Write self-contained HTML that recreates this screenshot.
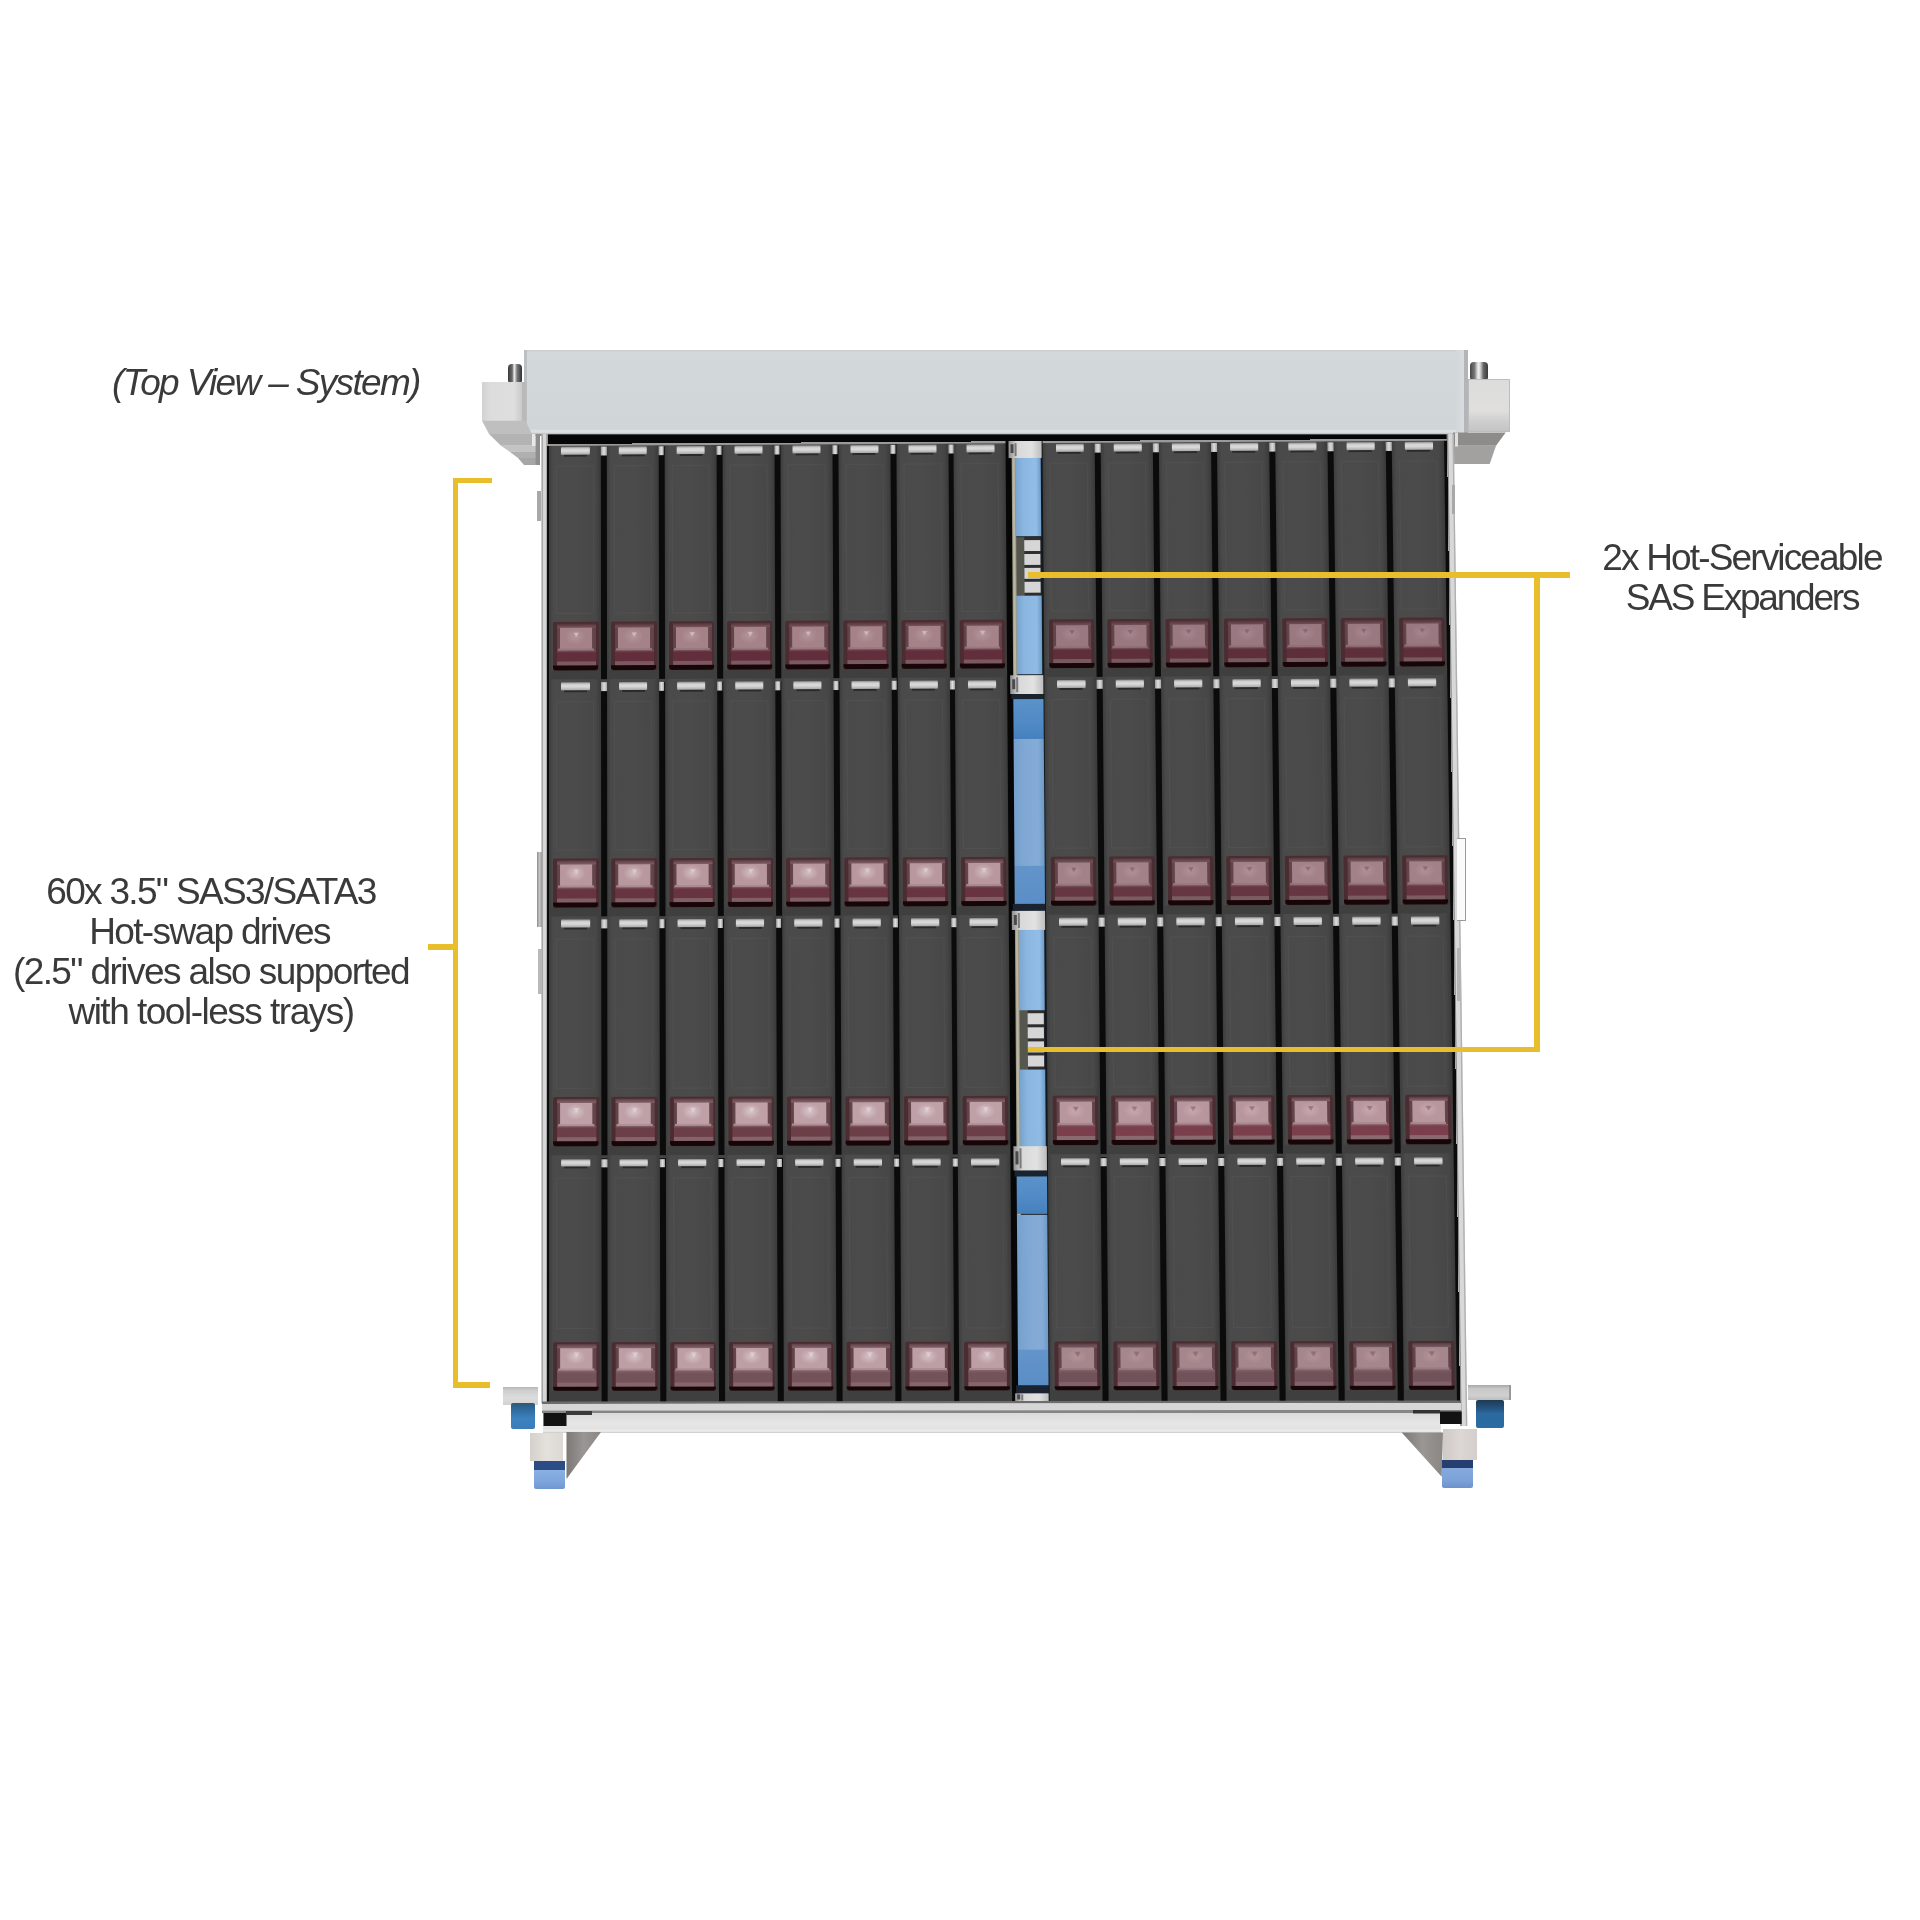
<!DOCTYPE html>
<html><head><meta charset="utf-8"><style>
html,body{margin:0;padding:0;background:#fff;}
body{width:1920px;height:1920px;position:relative;overflow:hidden;}
div{position:absolute;}
#grid{position:absolute;left:0;top:0;width:899px;height:958px;transform-origin:0 0;transform:matrix3d(0.993896354,-0.00808317684,0,-4.98686455e-06,-0.00809362335,0.979255466,0,-1.47963864e-05,0,0,1,0,547,444,0,1);}
#grid i{position:absolute;display:block;}
.t{position:absolute;font-family:"Liberation Sans",sans-serif;font-size:37px;color:#3a3a3a;white-space:nowrap;line-height:40px;}
</style></head><body>
<div style="left:524.00px;top:349.50px;width:944.00px;height:84.00px;background:linear-gradient(180deg,#c6cacc 0,#d3d8da 2.5%,#d1d7d8 50%,#d0d5d8 94%,#dde0e2 96%,#dde0e2 98%,#b8bbbd 100%)"></div>
<div style="left:524.00px;top:349.50px;width:3.00px;height:84.00px;background:#bcc0c2"></div>
<div style="left:1456.00px;top:349.50px;width:8.20px;height:84.00px;background:linear-gradient(90deg,#d2d7d9,#d8dcde)"></div>
<div style="left:1464.20px;top:349.50px;width:3.80px;height:84.00px;background:#b2b6b8"></div>
<div style="left:524.00px;top:433.50px;width:944.00px;height:2.00px;background:#878b8d"></div>
<div style="left:482.00px;top:381.70px;width:40.00px;height:39.30px;background:linear-gradient(90deg,#d2d2d2,#dcdcdc 20%,#dedede 80%,#cacaca)"></div>
<div style="left:521.60px;top:381.70px;width:4.40px;height:51.50px;background:#b9b9b9"></div>
<svg width="1920" height="1920" style="position:absolute;left:0;top:0"><polygon points="482,420.8 525.5,420.8 532,433.9 489,433.9" fill="#bfbfbf"/><polygon points="489,433.9 532,433.9 532,445.8 501,445.8" fill="#b3b3b3"/><polygon points="501,445.8 540,445.8 540,452 510,452" fill="#c4c4c4"/><polygon points="510,452 540,452 540,458 518,458" fill="#b0b0b0"/><polygon points="518,458 540,458 540,465 524,465" fill="#a6a6a6"/><rect x="532" y="434" width="3.6" height="12" fill="#e8e8e8"/><rect x="535.6" y="434" width="4.4" height="31" fill="#8e8e8e"/></svg>
<div style="left:508.00px;top:364.00px;width:14.00px;height:18.00px;background:linear-gradient(90deg,#3a3a3a,#6a6a6a 30%,#f0f0f0 45%,#777 65%,#333);border-radius:4px 4px 1px 1px"></div>
<div style="left:1468.00px;top:378.60px;width:41.50px;height:53.40px;background:linear-gradient(180deg,#dcdcdc 0,#e0dfde 60%,#cfcfcf 80%,#c4c4c4 100%);border:1px solid #bdbdbd;box-sizing:border-box"></div>
<svg width="1920" height="1920" style="position:absolute;left:0;top:0"><polygon points="1453,432.6 1505.7,432.6 1496,445.7 1453,445.7" fill="#8e8c8a"/><polygon points="1453,445.7 1496,445.7 1489.7,464 1453,464" fill="#a3a19f"/><rect x="1455" y="432.6" width="3" height="14" fill="#e0e0e0"/></svg>
<div style="left:1470.00px;top:362.00px;width:18.00px;height:17.40px;background:linear-gradient(90deg,#444,#777 25%,#eee 45%,#ddd 55%,#666 75%,#3a3a3a);border-radius:4px 4px 1px 1px"></div>
<svg width="1920" height="1920" style="position:absolute;left:0;top:0"><polygon points="543,434.5 1447,434.5 1447,439.5 543,444.8" fill="#060606"/><polygon points="541.5,434 548,434 548,1403 541.5,1403" fill="#d6d6d6"/><polygon points="541.5,434 543,434 543,1403 541.5,1403" fill="#a8a8a8"/><polygon points="546.3,434 548,434 548,1403 546.3,1403" fill="#9a9a9a"/><polygon points="1446.8,434 1453.8,434 1467.3,1426 1460.3,1426" fill="#d8d8d8"/><polygon points="1446.8,434 1448.2,434 1461.7,1426 1460.3,1426" fill="#8a8a8a"/><polygon points="1452.4,434 1453.8,434 1467.3,1426 1465.9,1426" fill="#b0b0b0"/></svg>
<div id="grid"><i style="left:0.00px;top:0.00px;width:899.00px;height:958.00px;background:#0b0b0b"></i><i style="left:0.00px;top:0.00px;width:899.00px;height:1.80px;background:#9a9a9a"></i><i style="left:1.80px;top:1.80px;width:52.00px;height:236.30px;background:linear-gradient(90deg,#3d3d3d 0,#4a4a4a 8%,#4b4b4b 50%,#474747 90%,#3a3a3a 100%)"></i><i style="left:8.80px;top:22.00px;width:38.00px;height:150.00px;border:1px solid rgba(255,255,255,0.035);box-sizing:border-box"></i><i style="left:14.00px;top:3.20px;width:28.50px;height:7.60px;background:linear-gradient(#8a8a8a,#d2d2d2 25%,#dadada 55%,#a8a8a8);border-radius:1px"></i><i style="left:16.70px;top:10.80px;width:23.00px;height:2.20px;background:#2a2a2a"></i><i style="left:6.40px;top:180.00px;width:45.20px;height:48.60px;background:#4a2c31;border-radius:2px"></i><i style="left:10.00px;top:182.00px;width:38.80px;height:29.00px;background:linear-gradient(90deg,#5e4248,#70525a 25%,#70525a 75%,#5e4248)"></i><i style="left:10.00px;top:182.00px;width:38.80px;height:4.00px;background:linear-gradient(#553238,#76545a)"></i><i style="left:13.10px;top:186.00px;width:32.30px;height:20.50px;background:radial-gradient(ellipse 32% 38% at 48% 42%,#b4969c 0,#a48288 100%)"></i><i style="left:26.30px;top:190.50px;width:6.00px;height:5.00px;background:#efe2e5;opacity:0.5;clip-path:polygon(0 0,100% 0,50% 100%);filter:blur(0.4px)"></i><i style="left:11.30px;top:206.50px;width:35.50px;height:2.10px;background:#a48288;opacity:0.8"></i><i style="left:10.00px;top:208.60px;width:38.80px;height:2.40px;background:linear-gradient(#7a5a60,#622e3c)"></i><i style="left:10.00px;top:211.00px;width:38.80px;height:8.80px;background:#622e3c"></i><i style="left:10.00px;top:219.80px;width:38.80px;height:4.40px;background:#7a5a60"></i><i style="left:6.40px;top:224.20px;width:45.00px;height:4.40px;background:#170507;border-radius:0 0 3px 3px"></i><i style="left:1.80px;top:228.50px;width:52.00px;height:9.60px;background:#3f3f3f"></i><i style="left:59.75px;top:1.80px;width:52.00px;height:236.30px;background:linear-gradient(90deg,#3d3d3d 0,#4a4a4a 8%,#4b4b4b 50%,#474747 90%,#3a3a3a 100%)"></i><i style="left:66.75px;top:22.00px;width:38.00px;height:150.00px;border:1px solid rgba(255,255,255,0.035);box-sizing:border-box"></i><i style="left:71.95px;top:3.20px;width:28.50px;height:7.60px;background:linear-gradient(#8a8a8a,#d2d2d2 25%,#dadada 55%,#a8a8a8);border-radius:1px"></i><i style="left:74.65px;top:10.80px;width:23.00px;height:2.20px;background:#2a2a2a"></i><i style="left:64.35px;top:180.00px;width:45.20px;height:48.60px;background:#4a2c31;border-radius:2px"></i><i style="left:67.95px;top:182.00px;width:38.80px;height:29.00px;background:linear-gradient(90deg,#5e4248,#70525a 25%,#70525a 75%,#5e4248)"></i><i style="left:67.95px;top:182.00px;width:38.80px;height:4.00px;background:linear-gradient(#553238,#76545a)"></i><i style="left:71.05px;top:186.00px;width:32.30px;height:20.50px;background:radial-gradient(ellipse 32% 38% at 48% 42%,#b4969c 0,#a48288 100%)"></i><i style="left:84.25px;top:190.50px;width:6.00px;height:5.00px;background:#efe2e5;opacity:0.5;clip-path:polygon(0 0,100% 0,50% 100%);filter:blur(0.4px)"></i><i style="left:69.25px;top:206.50px;width:35.50px;height:2.10px;background:#a48288;opacity:0.8"></i><i style="left:67.95px;top:208.60px;width:38.80px;height:2.40px;background:linear-gradient(#7a5a60,#622e3c)"></i><i style="left:67.95px;top:211.00px;width:38.80px;height:8.80px;background:#622e3c"></i><i style="left:67.95px;top:219.80px;width:38.80px;height:4.40px;background:#7a5a60"></i><i style="left:64.35px;top:224.20px;width:45.00px;height:4.40px;background:#170507;border-radius:0 0 3px 3px"></i><i style="left:59.75px;top:228.50px;width:52.00px;height:9.60px;background:#3f3f3f"></i><i style="left:117.70px;top:1.80px;width:52.00px;height:236.30px;background:linear-gradient(90deg,#3d3d3d 0,#4a4a4a 8%,#4b4b4b 50%,#474747 90%,#3a3a3a 100%)"></i><i style="left:124.70px;top:22.00px;width:38.00px;height:150.00px;border:1px solid rgba(255,255,255,0.035);box-sizing:border-box"></i><i style="left:129.90px;top:3.20px;width:28.50px;height:7.60px;background:linear-gradient(#8a8a8a,#d2d2d2 25%,#dadada 55%,#a8a8a8);border-radius:1px"></i><i style="left:132.60px;top:10.80px;width:23.00px;height:2.20px;background:#2a2a2a"></i><i style="left:122.30px;top:180.00px;width:45.20px;height:48.60px;background:#4a2c31;border-radius:2px"></i><i style="left:125.90px;top:182.00px;width:38.80px;height:29.00px;background:linear-gradient(90deg,#5e4248,#70525a 25%,#70525a 75%,#5e4248)"></i><i style="left:125.90px;top:182.00px;width:38.80px;height:4.00px;background:linear-gradient(#553238,#76545a)"></i><i style="left:129.00px;top:186.00px;width:32.30px;height:20.50px;background:radial-gradient(ellipse 32% 38% at 48% 42%,#b4969c 0,#a48288 100%)"></i><i style="left:142.20px;top:190.50px;width:6.00px;height:5.00px;background:#efe2e5;opacity:0.5;clip-path:polygon(0 0,100% 0,50% 100%);filter:blur(0.4px)"></i><i style="left:127.20px;top:206.50px;width:35.50px;height:2.10px;background:#a48288;opacity:0.8"></i><i style="left:125.90px;top:208.60px;width:38.80px;height:2.40px;background:linear-gradient(#7a5a60,#622e3c)"></i><i style="left:125.90px;top:211.00px;width:38.80px;height:8.80px;background:#622e3c"></i><i style="left:125.90px;top:219.80px;width:38.80px;height:4.40px;background:#7a5a60"></i><i style="left:122.30px;top:224.20px;width:45.00px;height:4.40px;background:#170507;border-radius:0 0 3px 3px"></i><i style="left:117.70px;top:228.50px;width:52.00px;height:9.60px;background:#3f3f3f"></i><i style="left:175.65px;top:1.80px;width:52.00px;height:236.30px;background:linear-gradient(90deg,#3d3d3d 0,#4a4a4a 8%,#4b4b4b 50%,#474747 90%,#3a3a3a 100%)"></i><i style="left:182.65px;top:22.00px;width:38.00px;height:150.00px;border:1px solid rgba(255,255,255,0.035);box-sizing:border-box"></i><i style="left:187.85px;top:3.20px;width:28.50px;height:7.60px;background:linear-gradient(#8a8a8a,#d2d2d2 25%,#dadada 55%,#a8a8a8);border-radius:1px"></i><i style="left:190.55px;top:10.80px;width:23.00px;height:2.20px;background:#2a2a2a"></i><i style="left:180.25px;top:180.00px;width:45.20px;height:48.60px;background:#4a2c31;border-radius:2px"></i><i style="left:183.85px;top:182.00px;width:38.80px;height:29.00px;background:linear-gradient(90deg,#5e4248,#70525a 25%,#70525a 75%,#5e4248)"></i><i style="left:183.85px;top:182.00px;width:38.80px;height:4.00px;background:linear-gradient(#553238,#76545a)"></i><i style="left:186.95px;top:186.00px;width:32.30px;height:20.50px;background:radial-gradient(ellipse 32% 38% at 48% 42%,#b4969c 0,#a48288 100%)"></i><i style="left:200.15px;top:190.50px;width:6.00px;height:5.00px;background:#efe2e5;opacity:0.5;clip-path:polygon(0 0,100% 0,50% 100%);filter:blur(0.4px)"></i><i style="left:185.15px;top:206.50px;width:35.50px;height:2.10px;background:#a48288;opacity:0.8"></i><i style="left:183.85px;top:208.60px;width:38.80px;height:2.40px;background:linear-gradient(#7a5a60,#622e3c)"></i><i style="left:183.85px;top:211.00px;width:38.80px;height:8.80px;background:#622e3c"></i><i style="left:183.85px;top:219.80px;width:38.80px;height:4.40px;background:#7a5a60"></i><i style="left:180.25px;top:224.20px;width:45.00px;height:4.40px;background:#170507;border-radius:0 0 3px 3px"></i><i style="left:175.65px;top:228.50px;width:52.00px;height:9.60px;background:#3f3f3f"></i><i style="left:233.60px;top:1.80px;width:52.00px;height:236.30px;background:linear-gradient(90deg,#3d3d3d 0,#4a4a4a 8%,#4b4b4b 50%,#474747 90%,#3a3a3a 100%)"></i><i style="left:240.60px;top:22.00px;width:38.00px;height:150.00px;border:1px solid rgba(255,255,255,0.035);box-sizing:border-box"></i><i style="left:245.80px;top:3.20px;width:28.50px;height:7.60px;background:linear-gradient(#8a8a8a,#d2d2d2 25%,#dadada 55%,#a8a8a8);border-radius:1px"></i><i style="left:248.50px;top:10.80px;width:23.00px;height:2.20px;background:#2a2a2a"></i><i style="left:238.20px;top:180.00px;width:45.20px;height:48.60px;background:#4a2c31;border-radius:2px"></i><i style="left:241.80px;top:182.00px;width:38.80px;height:29.00px;background:linear-gradient(90deg,#5e4248,#70525a 25%,#70525a 75%,#5e4248)"></i><i style="left:241.80px;top:182.00px;width:38.80px;height:4.00px;background:linear-gradient(#553238,#76545a)"></i><i style="left:244.90px;top:186.00px;width:32.30px;height:20.50px;background:radial-gradient(ellipse 32% 38% at 48% 42%,#b4969c 0,#a48288 100%)"></i><i style="left:258.10px;top:190.50px;width:6.00px;height:5.00px;background:#efe2e5;opacity:0.5;clip-path:polygon(0 0,100% 0,50% 100%);filter:blur(0.4px)"></i><i style="left:243.10px;top:206.50px;width:35.50px;height:2.10px;background:#a48288;opacity:0.8"></i><i style="left:241.80px;top:208.60px;width:38.80px;height:2.40px;background:linear-gradient(#7a5a60,#622e3c)"></i><i style="left:241.80px;top:211.00px;width:38.80px;height:8.80px;background:#622e3c"></i><i style="left:241.80px;top:219.80px;width:38.80px;height:4.40px;background:#7a5a60"></i><i style="left:238.20px;top:224.20px;width:45.00px;height:4.40px;background:#170507;border-radius:0 0 3px 3px"></i><i style="left:233.60px;top:228.50px;width:52.00px;height:9.60px;background:#3f3f3f"></i><i style="left:291.55px;top:1.80px;width:52.00px;height:236.30px;background:linear-gradient(90deg,#3d3d3d 0,#4a4a4a 8%,#4b4b4b 50%,#474747 90%,#3a3a3a 100%)"></i><i style="left:298.55px;top:22.00px;width:38.00px;height:150.00px;border:1px solid rgba(255,255,255,0.035);box-sizing:border-box"></i><i style="left:303.75px;top:3.20px;width:28.50px;height:7.60px;background:linear-gradient(#8a8a8a,#d2d2d2 25%,#dadada 55%,#a8a8a8);border-radius:1px"></i><i style="left:306.45px;top:10.80px;width:23.00px;height:2.20px;background:#2a2a2a"></i><i style="left:296.15px;top:180.00px;width:45.20px;height:48.60px;background:#4a2c31;border-radius:2px"></i><i style="left:299.75px;top:182.00px;width:38.80px;height:29.00px;background:linear-gradient(90deg,#5e4248,#70525a 25%,#70525a 75%,#5e4248)"></i><i style="left:299.75px;top:182.00px;width:38.80px;height:4.00px;background:linear-gradient(#553238,#76545a)"></i><i style="left:302.85px;top:186.00px;width:32.30px;height:20.50px;background:radial-gradient(ellipse 32% 38% at 48% 42%,#b4969c 0,#a48288 100%)"></i><i style="left:316.05px;top:190.50px;width:6.00px;height:5.00px;background:#efe2e5;opacity:0.5;clip-path:polygon(0 0,100% 0,50% 100%);filter:blur(0.4px)"></i><i style="left:301.05px;top:206.50px;width:35.50px;height:2.10px;background:#a48288;opacity:0.8"></i><i style="left:299.75px;top:208.60px;width:38.80px;height:2.40px;background:linear-gradient(#7a5a60,#622e3c)"></i><i style="left:299.75px;top:211.00px;width:38.80px;height:8.80px;background:#622e3c"></i><i style="left:299.75px;top:219.80px;width:38.80px;height:4.40px;background:#7a5a60"></i><i style="left:296.15px;top:224.20px;width:45.00px;height:4.40px;background:#170507;border-radius:0 0 3px 3px"></i><i style="left:291.55px;top:228.50px;width:52.00px;height:9.60px;background:#3f3f3f"></i><i style="left:349.50px;top:1.80px;width:52.00px;height:236.30px;background:linear-gradient(90deg,#3d3d3d 0,#4a4a4a 8%,#4b4b4b 50%,#474747 90%,#3a3a3a 100%)"></i><i style="left:356.50px;top:22.00px;width:38.00px;height:150.00px;border:1px solid rgba(255,255,255,0.035);box-sizing:border-box"></i><i style="left:361.70px;top:3.20px;width:28.50px;height:7.60px;background:linear-gradient(#8a8a8a,#d2d2d2 25%,#dadada 55%,#a8a8a8);border-radius:1px"></i><i style="left:364.40px;top:10.80px;width:23.00px;height:2.20px;background:#2a2a2a"></i><i style="left:354.10px;top:180.00px;width:45.20px;height:48.60px;background:#4a2c31;border-radius:2px"></i><i style="left:357.70px;top:182.00px;width:38.80px;height:29.00px;background:linear-gradient(90deg,#5e4248,#70525a 25%,#70525a 75%,#5e4248)"></i><i style="left:357.70px;top:182.00px;width:38.80px;height:4.00px;background:linear-gradient(#553238,#76545a)"></i><i style="left:360.80px;top:186.00px;width:32.30px;height:20.50px;background:radial-gradient(ellipse 32% 38% at 48% 42%,#b4969c 0,#a48288 100%)"></i><i style="left:374.00px;top:190.50px;width:6.00px;height:5.00px;background:#efe2e5;opacity:0.5;clip-path:polygon(0 0,100% 0,50% 100%);filter:blur(0.4px)"></i><i style="left:359.00px;top:206.50px;width:35.50px;height:2.10px;background:#a48288;opacity:0.8"></i><i style="left:357.70px;top:208.60px;width:38.80px;height:2.40px;background:linear-gradient(#7a5a60,#622e3c)"></i><i style="left:357.70px;top:211.00px;width:38.80px;height:8.80px;background:#622e3c"></i><i style="left:357.70px;top:219.80px;width:38.80px;height:4.40px;background:#7a5a60"></i><i style="left:354.10px;top:224.20px;width:45.00px;height:4.40px;background:#170507;border-radius:0 0 3px 3px"></i><i style="left:349.50px;top:228.50px;width:52.00px;height:9.60px;background:#3f3f3f"></i><i style="left:407.45px;top:1.80px;width:52.00px;height:236.30px;background:linear-gradient(90deg,#3d3d3d 0,#4a4a4a 8%,#4b4b4b 50%,#474747 90%,#3a3a3a 100%)"></i><i style="left:414.45px;top:22.00px;width:38.00px;height:150.00px;border:1px solid rgba(255,255,255,0.035);box-sizing:border-box"></i><i style="left:419.65px;top:3.20px;width:28.50px;height:7.60px;background:linear-gradient(#8a8a8a,#d2d2d2 25%,#dadada 55%,#a8a8a8);border-radius:1px"></i><i style="left:422.35px;top:10.80px;width:23.00px;height:2.20px;background:#2a2a2a"></i><i style="left:412.05px;top:180.00px;width:45.20px;height:48.60px;background:#4a2c31;border-radius:2px"></i><i style="left:415.65px;top:182.00px;width:38.80px;height:29.00px;background:linear-gradient(90deg,#5e4248,#70525a 25%,#70525a 75%,#5e4248)"></i><i style="left:415.65px;top:182.00px;width:38.80px;height:4.00px;background:linear-gradient(#553238,#76545a)"></i><i style="left:418.75px;top:186.00px;width:32.30px;height:20.50px;background:radial-gradient(ellipse 32% 38% at 48% 42%,#b4969c 0,#a48288 100%)"></i><i style="left:431.95px;top:190.50px;width:6.00px;height:5.00px;background:#efe2e5;opacity:0.5;clip-path:polygon(0 0,100% 0,50% 100%);filter:blur(0.4px)"></i><i style="left:416.95px;top:206.50px;width:35.50px;height:2.10px;background:#a48288;opacity:0.8"></i><i style="left:415.65px;top:208.60px;width:38.80px;height:2.40px;background:linear-gradient(#7a5a60,#622e3c)"></i><i style="left:415.65px;top:211.00px;width:38.80px;height:8.80px;background:#622e3c"></i><i style="left:415.65px;top:219.80px;width:38.80px;height:4.40px;background:#7a5a60"></i><i style="left:412.05px;top:224.20px;width:45.00px;height:4.40px;background:#170507;border-radius:0 0 3px 3px"></i><i style="left:407.45px;top:228.50px;width:52.00px;height:9.60px;background:#3f3f3f"></i><i style="left:496.40px;top:1.80px;width:51.60px;height:236.30px;background:linear-gradient(90deg,#3d3d3d 0,#4a4a4a 8%,#4b4b4b 50%,#474747 90%,#3a3a3a 100%)"></i><i style="left:503.40px;top:22.00px;width:37.60px;height:150.00px;border:1px solid rgba(255,255,255,0.035);box-sizing:border-box"></i><i style="left:508.60px;top:3.20px;width:28.50px;height:7.60px;background:linear-gradient(#8a8a8a,#d2d2d2 25%,#dadada 55%,#a8a8a8);border-radius:1px"></i><i style="left:511.30px;top:10.80px;width:23.00px;height:2.20px;background:#2a2a2a"></i><i style="left:501.00px;top:180.00px;width:45.20px;height:48.60px;background:#4a2c31;border-radius:2px"></i><i style="left:504.60px;top:182.00px;width:38.80px;height:29.00px;background:linear-gradient(90deg,#5e4248,#70525a 25%,#70525a 75%,#5e4248)"></i><i style="left:504.60px;top:182.00px;width:38.80px;height:4.00px;background:linear-gradient(#503238,#6e5056)"></i><i style="left:507.70px;top:186.00px;width:32.30px;height:20.50px;background:radial-gradient(ellipse 32% 38% at 48% 42%,#a68890 0,#9a7880 100%)"></i><i style="left:520.90px;top:190.50px;width:6.00px;height:5.00px;background:#6e4c54;opacity:0.5;clip-path:polygon(0 0,100% 0,50% 100%);filter:blur(0.4px)"></i><i style="left:505.90px;top:206.50px;width:35.50px;height:2.10px;background:#9a7880;opacity:0.8"></i><i style="left:504.60px;top:208.60px;width:38.80px;height:2.40px;background:linear-gradient(#765a60,#5e2e3a)"></i><i style="left:504.60px;top:211.00px;width:38.80px;height:8.80px;background:#5e2e3a"></i><i style="left:504.60px;top:219.80px;width:38.80px;height:4.40px;background:#765a60"></i><i style="left:501.00px;top:224.20px;width:45.00px;height:4.40px;background:#170507;border-radius:0 0 3px 3px"></i><i style="left:496.40px;top:228.50px;width:51.60px;height:9.60px;background:#3f3f3f"></i><i style="left:554.40px;top:1.80px;width:51.60px;height:236.30px;background:linear-gradient(90deg,#3d3d3d 0,#4a4a4a 8%,#4b4b4b 50%,#474747 90%,#3a3a3a 100%)"></i><i style="left:561.40px;top:22.00px;width:37.60px;height:150.00px;border:1px solid rgba(255,255,255,0.035);box-sizing:border-box"></i><i style="left:566.60px;top:3.20px;width:28.50px;height:7.60px;background:linear-gradient(#8a8a8a,#d2d2d2 25%,#dadada 55%,#a8a8a8);border-radius:1px"></i><i style="left:569.30px;top:10.80px;width:23.00px;height:2.20px;background:#2a2a2a"></i><i style="left:559.00px;top:180.00px;width:45.20px;height:48.60px;background:#4a2c31;border-radius:2px"></i><i style="left:562.60px;top:182.00px;width:38.80px;height:29.00px;background:linear-gradient(90deg,#5e4248,#70525a 25%,#70525a 75%,#5e4248)"></i><i style="left:562.60px;top:182.00px;width:38.80px;height:4.00px;background:linear-gradient(#503238,#6e5056)"></i><i style="left:565.70px;top:186.00px;width:32.30px;height:20.50px;background:radial-gradient(ellipse 32% 38% at 48% 42%,#a68890 0,#9a7880 100%)"></i><i style="left:578.90px;top:190.50px;width:6.00px;height:5.00px;background:#6e4c54;opacity:0.5;clip-path:polygon(0 0,100% 0,50% 100%);filter:blur(0.4px)"></i><i style="left:563.90px;top:206.50px;width:35.50px;height:2.10px;background:#9a7880;opacity:0.8"></i><i style="left:562.60px;top:208.60px;width:38.80px;height:2.40px;background:linear-gradient(#765a60,#5e2e3a)"></i><i style="left:562.60px;top:211.00px;width:38.80px;height:8.80px;background:#5e2e3a"></i><i style="left:562.60px;top:219.80px;width:38.80px;height:4.40px;background:#765a60"></i><i style="left:559.00px;top:224.20px;width:45.00px;height:4.40px;background:#170507;border-radius:0 0 3px 3px"></i><i style="left:554.40px;top:228.50px;width:51.60px;height:9.60px;background:#3f3f3f"></i><i style="left:612.40px;top:1.80px;width:51.60px;height:236.30px;background:linear-gradient(90deg,#3d3d3d 0,#4a4a4a 8%,#4b4b4b 50%,#474747 90%,#3a3a3a 100%)"></i><i style="left:619.40px;top:22.00px;width:37.60px;height:150.00px;border:1px solid rgba(255,255,255,0.035);box-sizing:border-box"></i><i style="left:624.60px;top:3.20px;width:28.50px;height:7.60px;background:linear-gradient(#8a8a8a,#d2d2d2 25%,#dadada 55%,#a8a8a8);border-radius:1px"></i><i style="left:627.30px;top:10.80px;width:23.00px;height:2.20px;background:#2a2a2a"></i><i style="left:617.00px;top:180.00px;width:45.20px;height:48.60px;background:#4a2c31;border-radius:2px"></i><i style="left:620.60px;top:182.00px;width:38.80px;height:29.00px;background:linear-gradient(90deg,#5e4248,#70525a 25%,#70525a 75%,#5e4248)"></i><i style="left:620.60px;top:182.00px;width:38.80px;height:4.00px;background:linear-gradient(#503238,#6e5056)"></i><i style="left:623.70px;top:186.00px;width:32.30px;height:20.50px;background:radial-gradient(ellipse 32% 38% at 48% 42%,#a68890 0,#9a7880 100%)"></i><i style="left:636.90px;top:190.50px;width:6.00px;height:5.00px;background:#6e4c54;opacity:0.5;clip-path:polygon(0 0,100% 0,50% 100%);filter:blur(0.4px)"></i><i style="left:621.90px;top:206.50px;width:35.50px;height:2.10px;background:#9a7880;opacity:0.8"></i><i style="left:620.60px;top:208.60px;width:38.80px;height:2.40px;background:linear-gradient(#765a60,#5e2e3a)"></i><i style="left:620.60px;top:211.00px;width:38.80px;height:8.80px;background:#5e2e3a"></i><i style="left:620.60px;top:219.80px;width:38.80px;height:4.40px;background:#765a60"></i><i style="left:617.00px;top:224.20px;width:45.00px;height:4.40px;background:#170507;border-radius:0 0 3px 3px"></i><i style="left:612.40px;top:228.50px;width:51.60px;height:9.60px;background:#3f3f3f"></i><i style="left:670.40px;top:1.80px;width:51.60px;height:236.30px;background:linear-gradient(90deg,#3d3d3d 0,#4a4a4a 8%,#4b4b4b 50%,#474747 90%,#3a3a3a 100%)"></i><i style="left:677.40px;top:22.00px;width:37.60px;height:150.00px;border:1px solid rgba(255,255,255,0.035);box-sizing:border-box"></i><i style="left:682.60px;top:3.20px;width:28.50px;height:7.60px;background:linear-gradient(#8a8a8a,#d2d2d2 25%,#dadada 55%,#a8a8a8);border-radius:1px"></i><i style="left:685.30px;top:10.80px;width:23.00px;height:2.20px;background:#2a2a2a"></i><i style="left:675.00px;top:180.00px;width:45.20px;height:48.60px;background:#4a2c31;border-radius:2px"></i><i style="left:678.60px;top:182.00px;width:38.80px;height:29.00px;background:linear-gradient(90deg,#5e4248,#70525a 25%,#70525a 75%,#5e4248)"></i><i style="left:678.60px;top:182.00px;width:38.80px;height:4.00px;background:linear-gradient(#503238,#6e5056)"></i><i style="left:681.70px;top:186.00px;width:32.30px;height:20.50px;background:radial-gradient(ellipse 32% 38% at 48% 42%,#a68890 0,#9a7880 100%)"></i><i style="left:694.90px;top:190.50px;width:6.00px;height:5.00px;background:#6e4c54;opacity:0.5;clip-path:polygon(0 0,100% 0,50% 100%);filter:blur(0.4px)"></i><i style="left:679.90px;top:206.50px;width:35.50px;height:2.10px;background:#9a7880;opacity:0.8"></i><i style="left:678.60px;top:208.60px;width:38.80px;height:2.40px;background:linear-gradient(#765a60,#5e2e3a)"></i><i style="left:678.60px;top:211.00px;width:38.80px;height:8.80px;background:#5e2e3a"></i><i style="left:678.60px;top:219.80px;width:38.80px;height:4.40px;background:#765a60"></i><i style="left:675.00px;top:224.20px;width:45.00px;height:4.40px;background:#170507;border-radius:0 0 3px 3px"></i><i style="left:670.40px;top:228.50px;width:51.60px;height:9.60px;background:#3f3f3f"></i><i style="left:728.40px;top:1.80px;width:51.60px;height:236.30px;background:linear-gradient(90deg,#3d3d3d 0,#4a4a4a 8%,#4b4b4b 50%,#474747 90%,#3a3a3a 100%)"></i><i style="left:735.40px;top:22.00px;width:37.60px;height:150.00px;border:1px solid rgba(255,255,255,0.035);box-sizing:border-box"></i><i style="left:740.60px;top:3.20px;width:28.50px;height:7.60px;background:linear-gradient(#8a8a8a,#d2d2d2 25%,#dadada 55%,#a8a8a8);border-radius:1px"></i><i style="left:743.30px;top:10.80px;width:23.00px;height:2.20px;background:#2a2a2a"></i><i style="left:733.00px;top:180.00px;width:45.20px;height:48.60px;background:#4a2c31;border-radius:2px"></i><i style="left:736.60px;top:182.00px;width:38.80px;height:29.00px;background:linear-gradient(90deg,#5e4248,#70525a 25%,#70525a 75%,#5e4248)"></i><i style="left:736.60px;top:182.00px;width:38.80px;height:4.00px;background:linear-gradient(#503238,#6e5056)"></i><i style="left:739.70px;top:186.00px;width:32.30px;height:20.50px;background:radial-gradient(ellipse 32% 38% at 48% 42%,#a68890 0,#9a7880 100%)"></i><i style="left:752.90px;top:190.50px;width:6.00px;height:5.00px;background:#6e4c54;opacity:0.5;clip-path:polygon(0 0,100% 0,50% 100%);filter:blur(0.4px)"></i><i style="left:737.90px;top:206.50px;width:35.50px;height:2.10px;background:#9a7880;opacity:0.8"></i><i style="left:736.60px;top:208.60px;width:38.80px;height:2.40px;background:linear-gradient(#765a60,#5e2e3a)"></i><i style="left:736.60px;top:211.00px;width:38.80px;height:8.80px;background:#5e2e3a"></i><i style="left:736.60px;top:219.80px;width:38.80px;height:4.40px;background:#765a60"></i><i style="left:733.00px;top:224.20px;width:45.00px;height:4.40px;background:#170507;border-radius:0 0 3px 3px"></i><i style="left:728.40px;top:228.50px;width:51.60px;height:9.60px;background:#3f3f3f"></i><i style="left:786.40px;top:1.80px;width:51.60px;height:236.30px;background:linear-gradient(90deg,#3d3d3d 0,#4a4a4a 8%,#4b4b4b 50%,#474747 90%,#3a3a3a 100%)"></i><i style="left:793.40px;top:22.00px;width:37.60px;height:150.00px;border:1px solid rgba(255,255,255,0.035);box-sizing:border-box"></i><i style="left:798.60px;top:3.20px;width:28.50px;height:7.60px;background:linear-gradient(#8a8a8a,#d2d2d2 25%,#dadada 55%,#a8a8a8);border-radius:1px"></i><i style="left:801.30px;top:10.80px;width:23.00px;height:2.20px;background:#2a2a2a"></i><i style="left:791.00px;top:180.00px;width:45.20px;height:48.60px;background:#4a2c31;border-radius:2px"></i><i style="left:794.60px;top:182.00px;width:38.80px;height:29.00px;background:linear-gradient(90deg,#5e4248,#70525a 25%,#70525a 75%,#5e4248)"></i><i style="left:794.60px;top:182.00px;width:38.80px;height:4.00px;background:linear-gradient(#503238,#6e5056)"></i><i style="left:797.70px;top:186.00px;width:32.30px;height:20.50px;background:radial-gradient(ellipse 32% 38% at 48% 42%,#a68890 0,#9a7880 100%)"></i><i style="left:810.90px;top:190.50px;width:6.00px;height:5.00px;background:#6e4c54;opacity:0.5;clip-path:polygon(0 0,100% 0,50% 100%);filter:blur(0.4px)"></i><i style="left:795.90px;top:206.50px;width:35.50px;height:2.10px;background:#9a7880;opacity:0.8"></i><i style="left:794.60px;top:208.60px;width:38.80px;height:2.40px;background:linear-gradient(#765a60,#5e2e3a)"></i><i style="left:794.60px;top:211.00px;width:38.80px;height:8.80px;background:#5e2e3a"></i><i style="left:794.60px;top:219.80px;width:38.80px;height:4.40px;background:#765a60"></i><i style="left:791.00px;top:224.20px;width:45.00px;height:4.40px;background:#170507;border-radius:0 0 3px 3px"></i><i style="left:786.40px;top:228.50px;width:51.60px;height:9.60px;background:#3f3f3f"></i><i style="left:844.40px;top:1.80px;width:51.60px;height:236.30px;background:linear-gradient(90deg,#3d3d3d 0,#4a4a4a 8%,#4b4b4b 50%,#474747 90%,#3a3a3a 100%)"></i><i style="left:851.40px;top:22.00px;width:37.60px;height:150.00px;border:1px solid rgba(255,255,255,0.035);box-sizing:border-box"></i><i style="left:856.60px;top:3.20px;width:28.50px;height:7.60px;background:linear-gradient(#8a8a8a,#d2d2d2 25%,#dadada 55%,#a8a8a8);border-radius:1px"></i><i style="left:859.30px;top:10.80px;width:23.00px;height:2.20px;background:#2a2a2a"></i><i style="left:849.00px;top:180.00px;width:45.20px;height:48.60px;background:#4a2c31;border-radius:2px"></i><i style="left:852.60px;top:182.00px;width:38.80px;height:29.00px;background:linear-gradient(90deg,#5e4248,#70525a 25%,#70525a 75%,#5e4248)"></i><i style="left:852.60px;top:182.00px;width:38.80px;height:4.00px;background:linear-gradient(#503238,#6e5056)"></i><i style="left:855.70px;top:186.00px;width:32.30px;height:20.50px;background:radial-gradient(ellipse 32% 38% at 48% 42%,#a68890 0,#9a7880 100%)"></i><i style="left:868.90px;top:190.50px;width:6.00px;height:5.00px;background:#6e4c54;opacity:0.5;clip-path:polygon(0 0,100% 0,50% 100%);filter:blur(0.4px)"></i><i style="left:853.90px;top:206.50px;width:35.50px;height:2.10px;background:#9a7880;opacity:0.8"></i><i style="left:852.60px;top:208.60px;width:38.80px;height:2.40px;background:linear-gradient(#765a60,#5e2e3a)"></i><i style="left:852.60px;top:211.00px;width:38.80px;height:8.80px;background:#5e2e3a"></i><i style="left:852.60px;top:219.80px;width:38.80px;height:4.40px;background:#765a60"></i><i style="left:849.00px;top:224.20px;width:45.00px;height:4.40px;background:#170507;border-radius:0 0 3px 3px"></i><i style="left:844.40px;top:228.50px;width:51.60px;height:9.60px;background:#3f3f3f"></i><i style="left:54.00px;top:3.20px;width:5.55px;height:8.40px;background:linear-gradient(90deg,#9c9c9c,#e0e0e0 50%,#a8a8a8)"></i><i style="left:111.95px;top:3.20px;width:5.55px;height:8.40px;background:linear-gradient(90deg,#9c9c9c,#e0e0e0 50%,#a8a8a8)"></i><i style="left:169.90px;top:3.20px;width:5.55px;height:8.40px;background:linear-gradient(90deg,#9c9c9c,#e0e0e0 50%,#a8a8a8)"></i><i style="left:227.85px;top:3.20px;width:5.55px;height:8.40px;background:linear-gradient(90deg,#9c9c9c,#e0e0e0 50%,#a8a8a8)"></i><i style="left:285.80px;top:3.20px;width:5.55px;height:8.40px;background:linear-gradient(90deg,#9c9c9c,#e0e0e0 50%,#a8a8a8)"></i><i style="left:343.75px;top:3.20px;width:5.55px;height:8.40px;background:linear-gradient(90deg,#9c9c9c,#e0e0e0 50%,#a8a8a8)"></i><i style="left:401.70px;top:3.20px;width:5.55px;height:8.40px;background:linear-gradient(90deg,#9c9c9c,#e0e0e0 50%,#a8a8a8)"></i><i style="left:548.20px;top:3.20px;width:6.00px;height:8.40px;background:linear-gradient(90deg,#9c9c9c,#e0e0e0 50%,#a8a8a8)"></i><i style="left:606.20px;top:3.20px;width:6.00px;height:8.40px;background:linear-gradient(90deg,#9c9c9c,#e0e0e0 50%,#a8a8a8)"></i><i style="left:664.20px;top:3.20px;width:6.00px;height:8.40px;background:linear-gradient(90deg,#9c9c9c,#e0e0e0 50%,#a8a8a8)"></i><i style="left:722.20px;top:3.20px;width:6.00px;height:8.40px;background:linear-gradient(90deg,#9c9c9c,#e0e0e0 50%,#a8a8a8)"></i><i style="left:780.20px;top:3.20px;width:6.00px;height:8.40px;background:linear-gradient(90deg,#9c9c9c,#e0e0e0 50%,#a8a8a8)"></i><i style="left:838.20px;top:3.20px;width:6.00px;height:8.40px;background:linear-gradient(90deg,#9c9c9c,#e0e0e0 50%,#a8a8a8)"></i><i style="left:53.80px;top:1.50px;width:5.95px;height:1.70px;background:#444"></i><i style="left:111.75px;top:1.50px;width:5.95px;height:1.70px;background:#444"></i><i style="left:169.70px;top:1.50px;width:5.95px;height:1.70px;background:#444"></i><i style="left:227.65px;top:1.50px;width:5.95px;height:1.70px;background:#444"></i><i style="left:285.60px;top:1.50px;width:5.95px;height:1.70px;background:#444"></i><i style="left:343.55px;top:1.50px;width:5.95px;height:1.70px;background:#444"></i><i style="left:401.50px;top:1.50px;width:5.95px;height:1.70px;background:#444"></i><i style="left:548.00px;top:1.50px;width:6.40px;height:1.70px;background:#444"></i><i style="left:606.00px;top:1.50px;width:6.40px;height:1.70px;background:#444"></i><i style="left:664.00px;top:1.50px;width:6.40px;height:1.70px;background:#444"></i><i style="left:722.00px;top:1.50px;width:6.40px;height:1.70px;background:#444"></i><i style="left:780.00px;top:1.50px;width:6.40px;height:1.70px;background:#444"></i><i style="left:838.00px;top:1.50px;width:6.40px;height:1.70px;background:#444"></i><i style="left:1.80px;top:238.10px;width:52.00px;height:238.10px;background:linear-gradient(90deg,#3d3d3d 0,#4a4a4a 8%,#4b4b4b 50%,#474747 90%,#3a3a3a 100%)"></i><i style="left:8.80px;top:260.10px;width:38.00px;height:150.00px;border:1px solid rgba(255,255,255,0.035);box-sizing:border-box"></i><i style="left:14.00px;top:241.30px;width:28.50px;height:7.60px;background:linear-gradient(#8a8a8a,#d2d2d2 25%,#dadada 55%,#a8a8a8);border-radius:1px"></i><i style="left:16.70px;top:248.90px;width:23.00px;height:2.20px;background:#2a2a2a"></i><i style="left:6.40px;top:418.10px;width:45.20px;height:48.60px;background:#4a2c31;border-radius:2px"></i><i style="left:10.00px;top:420.10px;width:38.80px;height:29.00px;background:linear-gradient(90deg,#5e4248,#70525a 25%,#70525a 75%,#5e4248)"></i><i style="left:10.00px;top:420.10px;width:38.80px;height:4.00px;background:linear-gradient(#5a3c42,#7e6066)"></i><i style="left:13.10px;top:424.10px;width:32.30px;height:20.50px;background:radial-gradient(ellipse 32% 38% at 48% 42%,#d2bec2 0,#b8989e 100%)"></i><i style="left:26.30px;top:428.60px;width:6.00px;height:5.00px;background:#efe2e5;opacity:0.5;clip-path:polygon(0 0,100% 0,50% 100%);filter:blur(0.4px)"></i><i style="left:11.30px;top:444.60px;width:35.50px;height:2.10px;background:#b8989e;opacity:0.8"></i><i style="left:10.00px;top:446.70px;width:38.80px;height:2.40px;background:linear-gradient(#806066,#683442)"></i><i style="left:10.00px;top:449.10px;width:38.80px;height:8.80px;background:#683442"></i><i style="left:10.00px;top:457.90px;width:38.80px;height:4.40px;background:#806066"></i><i style="left:6.40px;top:462.30px;width:45.00px;height:4.40px;background:#170507;border-radius:0 0 3px 3px"></i><i style="left:1.80px;top:466.60px;width:52.00px;height:9.60px;background:#3f3f3f"></i><i style="left:59.75px;top:238.10px;width:52.00px;height:238.10px;background:linear-gradient(90deg,#3d3d3d 0,#4a4a4a 8%,#4b4b4b 50%,#474747 90%,#3a3a3a 100%)"></i><i style="left:66.75px;top:260.10px;width:38.00px;height:150.00px;border:1px solid rgba(255,255,255,0.035);box-sizing:border-box"></i><i style="left:71.95px;top:241.30px;width:28.50px;height:7.60px;background:linear-gradient(#8a8a8a,#d2d2d2 25%,#dadada 55%,#a8a8a8);border-radius:1px"></i><i style="left:74.65px;top:248.90px;width:23.00px;height:2.20px;background:#2a2a2a"></i><i style="left:64.35px;top:418.10px;width:45.20px;height:48.60px;background:#4a2c31;border-radius:2px"></i><i style="left:67.95px;top:420.10px;width:38.80px;height:29.00px;background:linear-gradient(90deg,#5e4248,#70525a 25%,#70525a 75%,#5e4248)"></i><i style="left:67.95px;top:420.10px;width:38.80px;height:4.00px;background:linear-gradient(#5a3c42,#7e6066)"></i><i style="left:71.05px;top:424.10px;width:32.30px;height:20.50px;background:radial-gradient(ellipse 32% 38% at 48% 42%,#d2bec2 0,#b8989e 100%)"></i><i style="left:84.25px;top:428.60px;width:6.00px;height:5.00px;background:#efe2e5;opacity:0.5;clip-path:polygon(0 0,100% 0,50% 100%);filter:blur(0.4px)"></i><i style="left:69.25px;top:444.60px;width:35.50px;height:2.10px;background:#b8989e;opacity:0.8"></i><i style="left:67.95px;top:446.70px;width:38.80px;height:2.40px;background:linear-gradient(#806066,#683442)"></i><i style="left:67.95px;top:449.10px;width:38.80px;height:8.80px;background:#683442"></i><i style="left:67.95px;top:457.90px;width:38.80px;height:4.40px;background:#806066"></i><i style="left:64.35px;top:462.30px;width:45.00px;height:4.40px;background:#170507;border-radius:0 0 3px 3px"></i><i style="left:59.75px;top:466.60px;width:52.00px;height:9.60px;background:#3f3f3f"></i><i style="left:117.70px;top:238.10px;width:52.00px;height:238.10px;background:linear-gradient(90deg,#3d3d3d 0,#4a4a4a 8%,#4b4b4b 50%,#474747 90%,#3a3a3a 100%)"></i><i style="left:124.70px;top:260.10px;width:38.00px;height:150.00px;border:1px solid rgba(255,255,255,0.035);box-sizing:border-box"></i><i style="left:129.90px;top:241.30px;width:28.50px;height:7.60px;background:linear-gradient(#8a8a8a,#d2d2d2 25%,#dadada 55%,#a8a8a8);border-radius:1px"></i><i style="left:132.60px;top:248.90px;width:23.00px;height:2.20px;background:#2a2a2a"></i><i style="left:122.30px;top:418.10px;width:45.20px;height:48.60px;background:#4a2c31;border-radius:2px"></i><i style="left:125.90px;top:420.10px;width:38.80px;height:29.00px;background:linear-gradient(90deg,#5e4248,#70525a 25%,#70525a 75%,#5e4248)"></i><i style="left:125.90px;top:420.10px;width:38.80px;height:4.00px;background:linear-gradient(#5a3c42,#7e6066)"></i><i style="left:129.00px;top:424.10px;width:32.30px;height:20.50px;background:radial-gradient(ellipse 32% 38% at 48% 42%,#d2bec2 0,#b8989e 100%)"></i><i style="left:142.20px;top:428.60px;width:6.00px;height:5.00px;background:#efe2e5;opacity:0.5;clip-path:polygon(0 0,100% 0,50% 100%);filter:blur(0.4px)"></i><i style="left:127.20px;top:444.60px;width:35.50px;height:2.10px;background:#b8989e;opacity:0.8"></i><i style="left:125.90px;top:446.70px;width:38.80px;height:2.40px;background:linear-gradient(#806066,#683442)"></i><i style="left:125.90px;top:449.10px;width:38.80px;height:8.80px;background:#683442"></i><i style="left:125.90px;top:457.90px;width:38.80px;height:4.40px;background:#806066"></i><i style="left:122.30px;top:462.30px;width:45.00px;height:4.40px;background:#170507;border-radius:0 0 3px 3px"></i><i style="left:117.70px;top:466.60px;width:52.00px;height:9.60px;background:#3f3f3f"></i><i style="left:175.65px;top:238.10px;width:52.00px;height:238.10px;background:linear-gradient(90deg,#3d3d3d 0,#4a4a4a 8%,#4b4b4b 50%,#474747 90%,#3a3a3a 100%)"></i><i style="left:182.65px;top:260.10px;width:38.00px;height:150.00px;border:1px solid rgba(255,255,255,0.035);box-sizing:border-box"></i><i style="left:187.85px;top:241.30px;width:28.50px;height:7.60px;background:linear-gradient(#8a8a8a,#d2d2d2 25%,#dadada 55%,#a8a8a8);border-radius:1px"></i><i style="left:190.55px;top:248.90px;width:23.00px;height:2.20px;background:#2a2a2a"></i><i style="left:180.25px;top:418.10px;width:45.20px;height:48.60px;background:#4a2c31;border-radius:2px"></i><i style="left:183.85px;top:420.10px;width:38.80px;height:29.00px;background:linear-gradient(90deg,#5e4248,#70525a 25%,#70525a 75%,#5e4248)"></i><i style="left:183.85px;top:420.10px;width:38.80px;height:4.00px;background:linear-gradient(#5a3c42,#7e6066)"></i><i style="left:186.95px;top:424.10px;width:32.30px;height:20.50px;background:radial-gradient(ellipse 32% 38% at 48% 42%,#d2bec2 0,#b8989e 100%)"></i><i style="left:200.15px;top:428.60px;width:6.00px;height:5.00px;background:#efe2e5;opacity:0.5;clip-path:polygon(0 0,100% 0,50% 100%);filter:blur(0.4px)"></i><i style="left:185.15px;top:444.60px;width:35.50px;height:2.10px;background:#b8989e;opacity:0.8"></i><i style="left:183.85px;top:446.70px;width:38.80px;height:2.40px;background:linear-gradient(#806066,#683442)"></i><i style="left:183.85px;top:449.10px;width:38.80px;height:8.80px;background:#683442"></i><i style="left:183.85px;top:457.90px;width:38.80px;height:4.40px;background:#806066"></i><i style="left:180.25px;top:462.30px;width:45.00px;height:4.40px;background:#170507;border-radius:0 0 3px 3px"></i><i style="left:175.65px;top:466.60px;width:52.00px;height:9.60px;background:#3f3f3f"></i><i style="left:233.60px;top:238.10px;width:52.00px;height:238.10px;background:linear-gradient(90deg,#3d3d3d 0,#4a4a4a 8%,#4b4b4b 50%,#474747 90%,#3a3a3a 100%)"></i><i style="left:240.60px;top:260.10px;width:38.00px;height:150.00px;border:1px solid rgba(255,255,255,0.035);box-sizing:border-box"></i><i style="left:245.80px;top:241.30px;width:28.50px;height:7.60px;background:linear-gradient(#8a8a8a,#d2d2d2 25%,#dadada 55%,#a8a8a8);border-radius:1px"></i><i style="left:248.50px;top:248.90px;width:23.00px;height:2.20px;background:#2a2a2a"></i><i style="left:238.20px;top:418.10px;width:45.20px;height:48.60px;background:#4a2c31;border-radius:2px"></i><i style="left:241.80px;top:420.10px;width:38.80px;height:29.00px;background:linear-gradient(90deg,#5e4248,#70525a 25%,#70525a 75%,#5e4248)"></i><i style="left:241.80px;top:420.10px;width:38.80px;height:4.00px;background:linear-gradient(#5a3c42,#7e6066)"></i><i style="left:244.90px;top:424.10px;width:32.30px;height:20.50px;background:radial-gradient(ellipse 32% 38% at 48% 42%,#d2bec2 0,#b8989e 100%)"></i><i style="left:258.10px;top:428.60px;width:6.00px;height:5.00px;background:#efe2e5;opacity:0.5;clip-path:polygon(0 0,100% 0,50% 100%);filter:blur(0.4px)"></i><i style="left:243.10px;top:444.60px;width:35.50px;height:2.10px;background:#b8989e;opacity:0.8"></i><i style="left:241.80px;top:446.70px;width:38.80px;height:2.40px;background:linear-gradient(#806066,#683442)"></i><i style="left:241.80px;top:449.10px;width:38.80px;height:8.80px;background:#683442"></i><i style="left:241.80px;top:457.90px;width:38.80px;height:4.40px;background:#806066"></i><i style="left:238.20px;top:462.30px;width:45.00px;height:4.40px;background:#170507;border-radius:0 0 3px 3px"></i><i style="left:233.60px;top:466.60px;width:52.00px;height:9.60px;background:#3f3f3f"></i><i style="left:291.55px;top:238.10px;width:52.00px;height:238.10px;background:linear-gradient(90deg,#3d3d3d 0,#4a4a4a 8%,#4b4b4b 50%,#474747 90%,#3a3a3a 100%)"></i><i style="left:298.55px;top:260.10px;width:38.00px;height:150.00px;border:1px solid rgba(255,255,255,0.035);box-sizing:border-box"></i><i style="left:303.75px;top:241.30px;width:28.50px;height:7.60px;background:linear-gradient(#8a8a8a,#d2d2d2 25%,#dadada 55%,#a8a8a8);border-radius:1px"></i><i style="left:306.45px;top:248.90px;width:23.00px;height:2.20px;background:#2a2a2a"></i><i style="left:296.15px;top:418.10px;width:45.20px;height:48.60px;background:#4a2c31;border-radius:2px"></i><i style="left:299.75px;top:420.10px;width:38.80px;height:29.00px;background:linear-gradient(90deg,#5e4248,#70525a 25%,#70525a 75%,#5e4248)"></i><i style="left:299.75px;top:420.10px;width:38.80px;height:4.00px;background:linear-gradient(#5a3c42,#7e6066)"></i><i style="left:302.85px;top:424.10px;width:32.30px;height:20.50px;background:radial-gradient(ellipse 32% 38% at 48% 42%,#d2bec2 0,#b8989e 100%)"></i><i style="left:316.05px;top:428.60px;width:6.00px;height:5.00px;background:#efe2e5;opacity:0.5;clip-path:polygon(0 0,100% 0,50% 100%);filter:blur(0.4px)"></i><i style="left:301.05px;top:444.60px;width:35.50px;height:2.10px;background:#b8989e;opacity:0.8"></i><i style="left:299.75px;top:446.70px;width:38.80px;height:2.40px;background:linear-gradient(#806066,#683442)"></i><i style="left:299.75px;top:449.10px;width:38.80px;height:8.80px;background:#683442"></i><i style="left:299.75px;top:457.90px;width:38.80px;height:4.40px;background:#806066"></i><i style="left:296.15px;top:462.30px;width:45.00px;height:4.40px;background:#170507;border-radius:0 0 3px 3px"></i><i style="left:291.55px;top:466.60px;width:52.00px;height:9.60px;background:#3f3f3f"></i><i style="left:349.50px;top:238.10px;width:52.00px;height:238.10px;background:linear-gradient(90deg,#3d3d3d 0,#4a4a4a 8%,#4b4b4b 50%,#474747 90%,#3a3a3a 100%)"></i><i style="left:356.50px;top:260.10px;width:38.00px;height:150.00px;border:1px solid rgba(255,255,255,0.035);box-sizing:border-box"></i><i style="left:361.70px;top:241.30px;width:28.50px;height:7.60px;background:linear-gradient(#8a8a8a,#d2d2d2 25%,#dadada 55%,#a8a8a8);border-radius:1px"></i><i style="left:364.40px;top:248.90px;width:23.00px;height:2.20px;background:#2a2a2a"></i><i style="left:354.10px;top:418.10px;width:45.20px;height:48.60px;background:#4a2c31;border-radius:2px"></i><i style="left:357.70px;top:420.10px;width:38.80px;height:29.00px;background:linear-gradient(90deg,#5e4248,#70525a 25%,#70525a 75%,#5e4248)"></i><i style="left:357.70px;top:420.10px;width:38.80px;height:4.00px;background:linear-gradient(#5a3c42,#7e6066)"></i><i style="left:360.80px;top:424.10px;width:32.30px;height:20.50px;background:radial-gradient(ellipse 32% 38% at 48% 42%,#d2bec2 0,#b8989e 100%)"></i><i style="left:374.00px;top:428.60px;width:6.00px;height:5.00px;background:#efe2e5;opacity:0.5;clip-path:polygon(0 0,100% 0,50% 100%);filter:blur(0.4px)"></i><i style="left:359.00px;top:444.60px;width:35.50px;height:2.10px;background:#b8989e;opacity:0.8"></i><i style="left:357.70px;top:446.70px;width:38.80px;height:2.40px;background:linear-gradient(#806066,#683442)"></i><i style="left:357.70px;top:449.10px;width:38.80px;height:8.80px;background:#683442"></i><i style="left:357.70px;top:457.90px;width:38.80px;height:4.40px;background:#806066"></i><i style="left:354.10px;top:462.30px;width:45.00px;height:4.40px;background:#170507;border-radius:0 0 3px 3px"></i><i style="left:349.50px;top:466.60px;width:52.00px;height:9.60px;background:#3f3f3f"></i><i style="left:407.45px;top:238.10px;width:52.00px;height:238.10px;background:linear-gradient(90deg,#3d3d3d 0,#4a4a4a 8%,#4b4b4b 50%,#474747 90%,#3a3a3a 100%)"></i><i style="left:414.45px;top:260.10px;width:38.00px;height:150.00px;border:1px solid rgba(255,255,255,0.035);box-sizing:border-box"></i><i style="left:419.65px;top:241.30px;width:28.50px;height:7.60px;background:linear-gradient(#8a8a8a,#d2d2d2 25%,#dadada 55%,#a8a8a8);border-radius:1px"></i><i style="left:422.35px;top:248.90px;width:23.00px;height:2.20px;background:#2a2a2a"></i><i style="left:412.05px;top:418.10px;width:45.20px;height:48.60px;background:#4a2c31;border-radius:2px"></i><i style="left:415.65px;top:420.10px;width:38.80px;height:29.00px;background:linear-gradient(90deg,#5e4248,#70525a 25%,#70525a 75%,#5e4248)"></i><i style="left:415.65px;top:420.10px;width:38.80px;height:4.00px;background:linear-gradient(#5a3c42,#7e6066)"></i><i style="left:418.75px;top:424.10px;width:32.30px;height:20.50px;background:radial-gradient(ellipse 32% 38% at 48% 42%,#d2bec2 0,#b8989e 100%)"></i><i style="left:431.95px;top:428.60px;width:6.00px;height:5.00px;background:#efe2e5;opacity:0.5;clip-path:polygon(0 0,100% 0,50% 100%);filter:blur(0.4px)"></i><i style="left:416.95px;top:444.60px;width:35.50px;height:2.10px;background:#b8989e;opacity:0.8"></i><i style="left:415.65px;top:446.70px;width:38.80px;height:2.40px;background:linear-gradient(#806066,#683442)"></i><i style="left:415.65px;top:449.10px;width:38.80px;height:8.80px;background:#683442"></i><i style="left:415.65px;top:457.90px;width:38.80px;height:4.40px;background:#806066"></i><i style="left:412.05px;top:462.30px;width:45.00px;height:4.40px;background:#170507;border-radius:0 0 3px 3px"></i><i style="left:407.45px;top:466.60px;width:52.00px;height:9.60px;background:#3f3f3f"></i><i style="left:496.40px;top:238.10px;width:51.60px;height:238.10px;background:linear-gradient(90deg,#3d3d3d 0,#4a4a4a 8%,#4b4b4b 50%,#474747 90%,#3a3a3a 100%)"></i><i style="left:503.40px;top:260.10px;width:37.60px;height:150.00px;border:1px solid rgba(255,255,255,0.035);box-sizing:border-box"></i><i style="left:508.60px;top:241.30px;width:28.50px;height:7.60px;background:linear-gradient(#8a8a8a,#d2d2d2 25%,#dadada 55%,#a8a8a8);border-radius:1px"></i><i style="left:511.30px;top:248.90px;width:23.00px;height:2.20px;background:#2a2a2a"></i><i style="left:501.00px;top:418.10px;width:45.20px;height:48.60px;background:#4a2c31;border-radius:2px"></i><i style="left:504.60px;top:420.10px;width:38.80px;height:29.00px;background:linear-gradient(90deg,#5e4248,#70525a 25%,#70525a 75%,#5e4248)"></i><i style="left:504.60px;top:420.10px;width:38.80px;height:4.00px;background:linear-gradient(#553a40,#76585e)"></i><i style="left:507.70px;top:424.10px;width:32.30px;height:20.50px;background:radial-gradient(ellipse 32% 38% at 48% 42%,#b09298 0,#a28288 100%)"></i><i style="left:520.90px;top:428.60px;width:6.00px;height:5.00px;background:#6e4c54;opacity:0.5;clip-path:polygon(0 0,100% 0,50% 100%);filter:blur(0.4px)"></i><i style="left:505.90px;top:444.60px;width:35.50px;height:2.10px;background:#a28288;opacity:0.8"></i><i style="left:504.60px;top:446.70px;width:38.80px;height:2.40px;background:linear-gradient(#7a5c62,#663642)"></i><i style="left:504.60px;top:449.10px;width:38.80px;height:8.80px;background:#663642"></i><i style="left:504.60px;top:457.90px;width:38.80px;height:4.40px;background:#7a5c62"></i><i style="left:501.00px;top:462.30px;width:45.00px;height:4.40px;background:#170507;border-radius:0 0 3px 3px"></i><i style="left:496.40px;top:466.60px;width:51.60px;height:9.60px;background:#3f3f3f"></i><i style="left:554.40px;top:238.10px;width:51.60px;height:238.10px;background:linear-gradient(90deg,#3d3d3d 0,#4a4a4a 8%,#4b4b4b 50%,#474747 90%,#3a3a3a 100%)"></i><i style="left:561.40px;top:260.10px;width:37.60px;height:150.00px;border:1px solid rgba(255,255,255,0.035);box-sizing:border-box"></i><i style="left:566.60px;top:241.30px;width:28.50px;height:7.60px;background:linear-gradient(#8a8a8a,#d2d2d2 25%,#dadada 55%,#a8a8a8);border-radius:1px"></i><i style="left:569.30px;top:248.90px;width:23.00px;height:2.20px;background:#2a2a2a"></i><i style="left:559.00px;top:418.10px;width:45.20px;height:48.60px;background:#4a2c31;border-radius:2px"></i><i style="left:562.60px;top:420.10px;width:38.80px;height:29.00px;background:linear-gradient(90deg,#5e4248,#70525a 25%,#70525a 75%,#5e4248)"></i><i style="left:562.60px;top:420.10px;width:38.80px;height:4.00px;background:linear-gradient(#553a40,#76585e)"></i><i style="left:565.70px;top:424.10px;width:32.30px;height:20.50px;background:radial-gradient(ellipse 32% 38% at 48% 42%,#b09298 0,#a28288 100%)"></i><i style="left:578.90px;top:428.60px;width:6.00px;height:5.00px;background:#6e4c54;opacity:0.5;clip-path:polygon(0 0,100% 0,50% 100%);filter:blur(0.4px)"></i><i style="left:563.90px;top:444.60px;width:35.50px;height:2.10px;background:#a28288;opacity:0.8"></i><i style="left:562.60px;top:446.70px;width:38.80px;height:2.40px;background:linear-gradient(#7a5c62,#663642)"></i><i style="left:562.60px;top:449.10px;width:38.80px;height:8.80px;background:#663642"></i><i style="left:562.60px;top:457.90px;width:38.80px;height:4.40px;background:#7a5c62"></i><i style="left:559.00px;top:462.30px;width:45.00px;height:4.40px;background:#170507;border-radius:0 0 3px 3px"></i><i style="left:554.40px;top:466.60px;width:51.60px;height:9.60px;background:#3f3f3f"></i><i style="left:612.40px;top:238.10px;width:51.60px;height:238.10px;background:linear-gradient(90deg,#3d3d3d 0,#4a4a4a 8%,#4b4b4b 50%,#474747 90%,#3a3a3a 100%)"></i><i style="left:619.40px;top:260.10px;width:37.60px;height:150.00px;border:1px solid rgba(255,255,255,0.035);box-sizing:border-box"></i><i style="left:624.60px;top:241.30px;width:28.50px;height:7.60px;background:linear-gradient(#8a8a8a,#d2d2d2 25%,#dadada 55%,#a8a8a8);border-radius:1px"></i><i style="left:627.30px;top:248.90px;width:23.00px;height:2.20px;background:#2a2a2a"></i><i style="left:617.00px;top:418.10px;width:45.20px;height:48.60px;background:#4a2c31;border-radius:2px"></i><i style="left:620.60px;top:420.10px;width:38.80px;height:29.00px;background:linear-gradient(90deg,#5e4248,#70525a 25%,#70525a 75%,#5e4248)"></i><i style="left:620.60px;top:420.10px;width:38.80px;height:4.00px;background:linear-gradient(#553a40,#76585e)"></i><i style="left:623.70px;top:424.10px;width:32.30px;height:20.50px;background:radial-gradient(ellipse 32% 38% at 48% 42%,#b09298 0,#a28288 100%)"></i><i style="left:636.90px;top:428.60px;width:6.00px;height:5.00px;background:#6e4c54;opacity:0.5;clip-path:polygon(0 0,100% 0,50% 100%);filter:blur(0.4px)"></i><i style="left:621.90px;top:444.60px;width:35.50px;height:2.10px;background:#a28288;opacity:0.8"></i><i style="left:620.60px;top:446.70px;width:38.80px;height:2.40px;background:linear-gradient(#7a5c62,#663642)"></i><i style="left:620.60px;top:449.10px;width:38.80px;height:8.80px;background:#663642"></i><i style="left:620.60px;top:457.90px;width:38.80px;height:4.40px;background:#7a5c62"></i><i style="left:617.00px;top:462.30px;width:45.00px;height:4.40px;background:#170507;border-radius:0 0 3px 3px"></i><i style="left:612.40px;top:466.60px;width:51.60px;height:9.60px;background:#3f3f3f"></i><i style="left:670.40px;top:238.10px;width:51.60px;height:238.10px;background:linear-gradient(90deg,#3d3d3d 0,#4a4a4a 8%,#4b4b4b 50%,#474747 90%,#3a3a3a 100%)"></i><i style="left:677.40px;top:260.10px;width:37.60px;height:150.00px;border:1px solid rgba(255,255,255,0.035);box-sizing:border-box"></i><i style="left:682.60px;top:241.30px;width:28.50px;height:7.60px;background:linear-gradient(#8a8a8a,#d2d2d2 25%,#dadada 55%,#a8a8a8);border-radius:1px"></i><i style="left:685.30px;top:248.90px;width:23.00px;height:2.20px;background:#2a2a2a"></i><i style="left:675.00px;top:418.10px;width:45.20px;height:48.60px;background:#4a2c31;border-radius:2px"></i><i style="left:678.60px;top:420.10px;width:38.80px;height:29.00px;background:linear-gradient(90deg,#5e4248,#70525a 25%,#70525a 75%,#5e4248)"></i><i style="left:678.60px;top:420.10px;width:38.80px;height:4.00px;background:linear-gradient(#553a40,#76585e)"></i><i style="left:681.70px;top:424.10px;width:32.30px;height:20.50px;background:radial-gradient(ellipse 32% 38% at 48% 42%,#b09298 0,#a28288 100%)"></i><i style="left:694.90px;top:428.60px;width:6.00px;height:5.00px;background:#6e4c54;opacity:0.5;clip-path:polygon(0 0,100% 0,50% 100%);filter:blur(0.4px)"></i><i style="left:679.90px;top:444.60px;width:35.50px;height:2.10px;background:#a28288;opacity:0.8"></i><i style="left:678.60px;top:446.70px;width:38.80px;height:2.40px;background:linear-gradient(#7a5c62,#663642)"></i><i style="left:678.60px;top:449.10px;width:38.80px;height:8.80px;background:#663642"></i><i style="left:678.60px;top:457.90px;width:38.80px;height:4.40px;background:#7a5c62"></i><i style="left:675.00px;top:462.30px;width:45.00px;height:4.40px;background:#170507;border-radius:0 0 3px 3px"></i><i style="left:670.40px;top:466.60px;width:51.60px;height:9.60px;background:#3f3f3f"></i><i style="left:728.40px;top:238.10px;width:51.60px;height:238.10px;background:linear-gradient(90deg,#3d3d3d 0,#4a4a4a 8%,#4b4b4b 50%,#474747 90%,#3a3a3a 100%)"></i><i style="left:735.40px;top:260.10px;width:37.60px;height:150.00px;border:1px solid rgba(255,255,255,0.035);box-sizing:border-box"></i><i style="left:740.60px;top:241.30px;width:28.50px;height:7.60px;background:linear-gradient(#8a8a8a,#d2d2d2 25%,#dadada 55%,#a8a8a8);border-radius:1px"></i><i style="left:743.30px;top:248.90px;width:23.00px;height:2.20px;background:#2a2a2a"></i><i style="left:733.00px;top:418.10px;width:45.20px;height:48.60px;background:#4a2c31;border-radius:2px"></i><i style="left:736.60px;top:420.10px;width:38.80px;height:29.00px;background:linear-gradient(90deg,#5e4248,#70525a 25%,#70525a 75%,#5e4248)"></i><i style="left:736.60px;top:420.10px;width:38.80px;height:4.00px;background:linear-gradient(#553a40,#76585e)"></i><i style="left:739.70px;top:424.10px;width:32.30px;height:20.50px;background:radial-gradient(ellipse 32% 38% at 48% 42%,#b09298 0,#a28288 100%)"></i><i style="left:752.90px;top:428.60px;width:6.00px;height:5.00px;background:#6e4c54;opacity:0.5;clip-path:polygon(0 0,100% 0,50% 100%);filter:blur(0.4px)"></i><i style="left:737.90px;top:444.60px;width:35.50px;height:2.10px;background:#a28288;opacity:0.8"></i><i style="left:736.60px;top:446.70px;width:38.80px;height:2.40px;background:linear-gradient(#7a5c62,#663642)"></i><i style="left:736.60px;top:449.10px;width:38.80px;height:8.80px;background:#663642"></i><i style="left:736.60px;top:457.90px;width:38.80px;height:4.40px;background:#7a5c62"></i><i style="left:733.00px;top:462.30px;width:45.00px;height:4.40px;background:#170507;border-radius:0 0 3px 3px"></i><i style="left:728.40px;top:466.60px;width:51.60px;height:9.60px;background:#3f3f3f"></i><i style="left:786.40px;top:238.10px;width:51.60px;height:238.10px;background:linear-gradient(90deg,#3d3d3d 0,#4a4a4a 8%,#4b4b4b 50%,#474747 90%,#3a3a3a 100%)"></i><i style="left:793.40px;top:260.10px;width:37.60px;height:150.00px;border:1px solid rgba(255,255,255,0.035);box-sizing:border-box"></i><i style="left:798.60px;top:241.30px;width:28.50px;height:7.60px;background:linear-gradient(#8a8a8a,#d2d2d2 25%,#dadada 55%,#a8a8a8);border-radius:1px"></i><i style="left:801.30px;top:248.90px;width:23.00px;height:2.20px;background:#2a2a2a"></i><i style="left:791.00px;top:418.10px;width:45.20px;height:48.60px;background:#4a2c31;border-radius:2px"></i><i style="left:794.60px;top:420.10px;width:38.80px;height:29.00px;background:linear-gradient(90deg,#5e4248,#70525a 25%,#70525a 75%,#5e4248)"></i><i style="left:794.60px;top:420.10px;width:38.80px;height:4.00px;background:linear-gradient(#553a40,#76585e)"></i><i style="left:797.70px;top:424.10px;width:32.30px;height:20.50px;background:radial-gradient(ellipse 32% 38% at 48% 42%,#b09298 0,#a28288 100%)"></i><i style="left:810.90px;top:428.60px;width:6.00px;height:5.00px;background:#6e4c54;opacity:0.5;clip-path:polygon(0 0,100% 0,50% 100%);filter:blur(0.4px)"></i><i style="left:795.90px;top:444.60px;width:35.50px;height:2.10px;background:#a28288;opacity:0.8"></i><i style="left:794.60px;top:446.70px;width:38.80px;height:2.40px;background:linear-gradient(#7a5c62,#663642)"></i><i style="left:794.60px;top:449.10px;width:38.80px;height:8.80px;background:#663642"></i><i style="left:794.60px;top:457.90px;width:38.80px;height:4.40px;background:#7a5c62"></i><i style="left:791.00px;top:462.30px;width:45.00px;height:4.40px;background:#170507;border-radius:0 0 3px 3px"></i><i style="left:786.40px;top:466.60px;width:51.60px;height:9.60px;background:#3f3f3f"></i><i style="left:844.40px;top:238.10px;width:51.60px;height:238.10px;background:linear-gradient(90deg,#3d3d3d 0,#4a4a4a 8%,#4b4b4b 50%,#474747 90%,#3a3a3a 100%)"></i><i style="left:851.40px;top:260.10px;width:37.60px;height:150.00px;border:1px solid rgba(255,255,255,0.035);box-sizing:border-box"></i><i style="left:856.60px;top:241.30px;width:28.50px;height:7.60px;background:linear-gradient(#8a8a8a,#d2d2d2 25%,#dadada 55%,#a8a8a8);border-radius:1px"></i><i style="left:859.30px;top:248.90px;width:23.00px;height:2.20px;background:#2a2a2a"></i><i style="left:849.00px;top:418.10px;width:45.20px;height:48.60px;background:#4a2c31;border-radius:2px"></i><i style="left:852.60px;top:420.10px;width:38.80px;height:29.00px;background:linear-gradient(90deg,#5e4248,#70525a 25%,#70525a 75%,#5e4248)"></i><i style="left:852.60px;top:420.10px;width:38.80px;height:4.00px;background:linear-gradient(#553a40,#76585e)"></i><i style="left:855.70px;top:424.10px;width:32.30px;height:20.50px;background:radial-gradient(ellipse 32% 38% at 48% 42%,#b09298 0,#a28288 100%)"></i><i style="left:868.90px;top:428.60px;width:6.00px;height:5.00px;background:#6e4c54;opacity:0.5;clip-path:polygon(0 0,100% 0,50% 100%);filter:blur(0.4px)"></i><i style="left:853.90px;top:444.60px;width:35.50px;height:2.10px;background:#a28288;opacity:0.8"></i><i style="left:852.60px;top:446.70px;width:38.80px;height:2.40px;background:linear-gradient(#7a5c62,#663642)"></i><i style="left:852.60px;top:449.10px;width:38.80px;height:8.80px;background:#663642"></i><i style="left:852.60px;top:457.90px;width:38.80px;height:4.40px;background:#7a5c62"></i><i style="left:849.00px;top:462.30px;width:45.00px;height:4.40px;background:#170507;border-radius:0 0 3px 3px"></i><i style="left:844.40px;top:466.60px;width:51.60px;height:9.60px;background:#3f3f3f"></i><i style="left:54.00px;top:241.30px;width:5.55px;height:8.40px;background:linear-gradient(90deg,#9c9c9c,#e0e0e0 50%,#a8a8a8)"></i><i style="left:111.95px;top:241.30px;width:5.55px;height:8.40px;background:linear-gradient(90deg,#9c9c9c,#e0e0e0 50%,#a8a8a8)"></i><i style="left:169.90px;top:241.30px;width:5.55px;height:8.40px;background:linear-gradient(90deg,#9c9c9c,#e0e0e0 50%,#a8a8a8)"></i><i style="left:227.85px;top:241.30px;width:5.55px;height:8.40px;background:linear-gradient(90deg,#9c9c9c,#e0e0e0 50%,#a8a8a8)"></i><i style="left:285.80px;top:241.30px;width:5.55px;height:8.40px;background:linear-gradient(90deg,#9c9c9c,#e0e0e0 50%,#a8a8a8)"></i><i style="left:343.75px;top:241.30px;width:5.55px;height:8.40px;background:linear-gradient(90deg,#9c9c9c,#e0e0e0 50%,#a8a8a8)"></i><i style="left:401.70px;top:241.30px;width:5.55px;height:8.40px;background:linear-gradient(90deg,#9c9c9c,#e0e0e0 50%,#a8a8a8)"></i><i style="left:548.20px;top:241.30px;width:6.00px;height:8.40px;background:linear-gradient(90deg,#9c9c9c,#e0e0e0 50%,#a8a8a8)"></i><i style="left:606.20px;top:241.30px;width:6.00px;height:8.40px;background:linear-gradient(90deg,#9c9c9c,#e0e0e0 50%,#a8a8a8)"></i><i style="left:664.20px;top:241.30px;width:6.00px;height:8.40px;background:linear-gradient(90deg,#9c9c9c,#e0e0e0 50%,#a8a8a8)"></i><i style="left:722.20px;top:241.30px;width:6.00px;height:8.40px;background:linear-gradient(90deg,#9c9c9c,#e0e0e0 50%,#a8a8a8)"></i><i style="left:780.20px;top:241.30px;width:6.00px;height:8.40px;background:linear-gradient(90deg,#9c9c9c,#e0e0e0 50%,#a8a8a8)"></i><i style="left:838.20px;top:241.30px;width:6.00px;height:8.40px;background:linear-gradient(90deg,#9c9c9c,#e0e0e0 50%,#a8a8a8)"></i><i style="left:53.80px;top:238.10px;width:5.95px;height:3.20px;background:#444"></i><i style="left:111.75px;top:238.10px;width:5.95px;height:3.20px;background:#444"></i><i style="left:169.70px;top:238.10px;width:5.95px;height:3.20px;background:#444"></i><i style="left:227.65px;top:238.10px;width:5.95px;height:3.20px;background:#444"></i><i style="left:285.60px;top:238.10px;width:5.95px;height:3.20px;background:#444"></i><i style="left:343.55px;top:238.10px;width:5.95px;height:3.20px;background:#444"></i><i style="left:401.50px;top:238.10px;width:5.95px;height:3.20px;background:#444"></i><i style="left:548.00px;top:238.10px;width:6.40px;height:3.20px;background:#444"></i><i style="left:606.00px;top:238.10px;width:6.40px;height:3.20px;background:#444"></i><i style="left:664.00px;top:238.10px;width:6.40px;height:3.20px;background:#444"></i><i style="left:722.00px;top:238.10px;width:6.40px;height:3.20px;background:#444"></i><i style="left:780.00px;top:238.10px;width:6.40px;height:3.20px;background:#444"></i><i style="left:838.00px;top:238.10px;width:6.40px;height:3.20px;background:#444"></i><i style="left:1.80px;top:476.20px;width:52.00px;height:238.10px;background:linear-gradient(90deg,#3d3d3d 0,#4a4a4a 8%,#4b4b4b 50%,#474747 90%,#3a3a3a 100%)"></i><i style="left:8.80px;top:498.20px;width:38.00px;height:150.00px;border:1px solid rgba(255,255,255,0.035);box-sizing:border-box"></i><i style="left:14.00px;top:479.40px;width:28.50px;height:7.60px;background:linear-gradient(#8a8a8a,#d2d2d2 25%,#dadada 55%,#a8a8a8);border-radius:1px"></i><i style="left:16.70px;top:487.00px;width:23.00px;height:2.20px;background:#2a2a2a"></i><i style="left:6.40px;top:656.20px;width:45.20px;height:48.60px;background:#4a2c31;border-radius:2px"></i><i style="left:10.00px;top:658.20px;width:38.80px;height:29.00px;background:linear-gradient(90deg,#5e4248,#70525a 25%,#70525a 75%,#5e4248)"></i><i style="left:10.00px;top:658.20px;width:38.80px;height:4.00px;background:linear-gradient(#5e4046,#82646a)"></i><i style="left:13.10px;top:662.20px;width:32.30px;height:20.50px;background:radial-gradient(ellipse 32% 38% at 48% 42%,#d8c6ca 0,#bea0a6 100%)"></i><i style="left:26.30px;top:666.70px;width:6.00px;height:5.00px;background:#efe2e5;opacity:0.5;clip-path:polygon(0 0,100% 0,50% 100%);filter:blur(0.4px)"></i><i style="left:11.30px;top:682.70px;width:35.50px;height:2.10px;background:#bea0a6;opacity:0.8"></i><i style="left:10.00px;top:684.80px;width:38.80px;height:2.40px;background:linear-gradient(#84646a,#6c3e48)"></i><i style="left:10.00px;top:687.20px;width:38.80px;height:8.80px;background:#6c3e48"></i><i style="left:10.00px;top:696.00px;width:38.80px;height:4.40px;background:#84646a"></i><i style="left:6.40px;top:700.40px;width:45.00px;height:4.40px;background:#170507;border-radius:0 0 3px 3px"></i><i style="left:1.80px;top:704.70px;width:52.00px;height:9.60px;background:#3f3f3f"></i><i style="left:59.75px;top:476.20px;width:52.00px;height:238.10px;background:linear-gradient(90deg,#3d3d3d 0,#4a4a4a 8%,#4b4b4b 50%,#474747 90%,#3a3a3a 100%)"></i><i style="left:66.75px;top:498.20px;width:38.00px;height:150.00px;border:1px solid rgba(255,255,255,0.035);box-sizing:border-box"></i><i style="left:71.95px;top:479.40px;width:28.50px;height:7.60px;background:linear-gradient(#8a8a8a,#d2d2d2 25%,#dadada 55%,#a8a8a8);border-radius:1px"></i><i style="left:74.65px;top:487.00px;width:23.00px;height:2.20px;background:#2a2a2a"></i><i style="left:64.35px;top:656.20px;width:45.20px;height:48.60px;background:#4a2c31;border-radius:2px"></i><i style="left:67.95px;top:658.20px;width:38.80px;height:29.00px;background:linear-gradient(90deg,#5e4248,#70525a 25%,#70525a 75%,#5e4248)"></i><i style="left:67.95px;top:658.20px;width:38.80px;height:4.00px;background:linear-gradient(#5e4046,#82646a)"></i><i style="left:71.05px;top:662.20px;width:32.30px;height:20.50px;background:radial-gradient(ellipse 32% 38% at 48% 42%,#d8c6ca 0,#bea0a6 100%)"></i><i style="left:84.25px;top:666.70px;width:6.00px;height:5.00px;background:#efe2e5;opacity:0.5;clip-path:polygon(0 0,100% 0,50% 100%);filter:blur(0.4px)"></i><i style="left:69.25px;top:682.70px;width:35.50px;height:2.10px;background:#bea0a6;opacity:0.8"></i><i style="left:67.95px;top:684.80px;width:38.80px;height:2.40px;background:linear-gradient(#84646a,#6c3e48)"></i><i style="left:67.95px;top:687.20px;width:38.80px;height:8.80px;background:#6c3e48"></i><i style="left:67.95px;top:696.00px;width:38.80px;height:4.40px;background:#84646a"></i><i style="left:64.35px;top:700.40px;width:45.00px;height:4.40px;background:#170507;border-radius:0 0 3px 3px"></i><i style="left:59.75px;top:704.70px;width:52.00px;height:9.60px;background:#3f3f3f"></i><i style="left:117.70px;top:476.20px;width:52.00px;height:238.10px;background:linear-gradient(90deg,#3d3d3d 0,#4a4a4a 8%,#4b4b4b 50%,#474747 90%,#3a3a3a 100%)"></i><i style="left:124.70px;top:498.20px;width:38.00px;height:150.00px;border:1px solid rgba(255,255,255,0.035);box-sizing:border-box"></i><i style="left:129.90px;top:479.40px;width:28.50px;height:7.60px;background:linear-gradient(#8a8a8a,#d2d2d2 25%,#dadada 55%,#a8a8a8);border-radius:1px"></i><i style="left:132.60px;top:487.00px;width:23.00px;height:2.20px;background:#2a2a2a"></i><i style="left:122.30px;top:656.20px;width:45.20px;height:48.60px;background:#4a2c31;border-radius:2px"></i><i style="left:125.90px;top:658.20px;width:38.80px;height:29.00px;background:linear-gradient(90deg,#5e4248,#70525a 25%,#70525a 75%,#5e4248)"></i><i style="left:125.90px;top:658.20px;width:38.80px;height:4.00px;background:linear-gradient(#5e4046,#82646a)"></i><i style="left:129.00px;top:662.20px;width:32.30px;height:20.50px;background:radial-gradient(ellipse 32% 38% at 48% 42%,#d8c6ca 0,#bea0a6 100%)"></i><i style="left:142.20px;top:666.70px;width:6.00px;height:5.00px;background:#efe2e5;opacity:0.5;clip-path:polygon(0 0,100% 0,50% 100%);filter:blur(0.4px)"></i><i style="left:127.20px;top:682.70px;width:35.50px;height:2.10px;background:#bea0a6;opacity:0.8"></i><i style="left:125.90px;top:684.80px;width:38.80px;height:2.40px;background:linear-gradient(#84646a,#6c3e48)"></i><i style="left:125.90px;top:687.20px;width:38.80px;height:8.80px;background:#6c3e48"></i><i style="left:125.90px;top:696.00px;width:38.80px;height:4.40px;background:#84646a"></i><i style="left:122.30px;top:700.40px;width:45.00px;height:4.40px;background:#170507;border-radius:0 0 3px 3px"></i><i style="left:117.70px;top:704.70px;width:52.00px;height:9.60px;background:#3f3f3f"></i><i style="left:175.65px;top:476.20px;width:52.00px;height:238.10px;background:linear-gradient(90deg,#3d3d3d 0,#4a4a4a 8%,#4b4b4b 50%,#474747 90%,#3a3a3a 100%)"></i><i style="left:182.65px;top:498.20px;width:38.00px;height:150.00px;border:1px solid rgba(255,255,255,0.035);box-sizing:border-box"></i><i style="left:187.85px;top:479.40px;width:28.50px;height:7.60px;background:linear-gradient(#8a8a8a,#d2d2d2 25%,#dadada 55%,#a8a8a8);border-radius:1px"></i><i style="left:190.55px;top:487.00px;width:23.00px;height:2.20px;background:#2a2a2a"></i><i style="left:180.25px;top:656.20px;width:45.20px;height:48.60px;background:#4a2c31;border-radius:2px"></i><i style="left:183.85px;top:658.20px;width:38.80px;height:29.00px;background:linear-gradient(90deg,#5e4248,#70525a 25%,#70525a 75%,#5e4248)"></i><i style="left:183.85px;top:658.20px;width:38.80px;height:4.00px;background:linear-gradient(#5e4046,#82646a)"></i><i style="left:186.95px;top:662.20px;width:32.30px;height:20.50px;background:radial-gradient(ellipse 32% 38% at 48% 42%,#d8c6ca 0,#bea0a6 100%)"></i><i style="left:200.15px;top:666.70px;width:6.00px;height:5.00px;background:#efe2e5;opacity:0.5;clip-path:polygon(0 0,100% 0,50% 100%);filter:blur(0.4px)"></i><i style="left:185.15px;top:682.70px;width:35.50px;height:2.10px;background:#bea0a6;opacity:0.8"></i><i style="left:183.85px;top:684.80px;width:38.80px;height:2.40px;background:linear-gradient(#84646a,#6c3e48)"></i><i style="left:183.85px;top:687.20px;width:38.80px;height:8.80px;background:#6c3e48"></i><i style="left:183.85px;top:696.00px;width:38.80px;height:4.40px;background:#84646a"></i><i style="left:180.25px;top:700.40px;width:45.00px;height:4.40px;background:#170507;border-radius:0 0 3px 3px"></i><i style="left:175.65px;top:704.70px;width:52.00px;height:9.60px;background:#3f3f3f"></i><i style="left:233.60px;top:476.20px;width:52.00px;height:238.10px;background:linear-gradient(90deg,#3d3d3d 0,#4a4a4a 8%,#4b4b4b 50%,#474747 90%,#3a3a3a 100%)"></i><i style="left:240.60px;top:498.20px;width:38.00px;height:150.00px;border:1px solid rgba(255,255,255,0.035);box-sizing:border-box"></i><i style="left:245.80px;top:479.40px;width:28.50px;height:7.60px;background:linear-gradient(#8a8a8a,#d2d2d2 25%,#dadada 55%,#a8a8a8);border-radius:1px"></i><i style="left:248.50px;top:487.00px;width:23.00px;height:2.20px;background:#2a2a2a"></i><i style="left:238.20px;top:656.20px;width:45.20px;height:48.60px;background:#4a2c31;border-radius:2px"></i><i style="left:241.80px;top:658.20px;width:38.80px;height:29.00px;background:linear-gradient(90deg,#5e4248,#70525a 25%,#70525a 75%,#5e4248)"></i><i style="left:241.80px;top:658.20px;width:38.80px;height:4.00px;background:linear-gradient(#5e4046,#82646a)"></i><i style="left:244.90px;top:662.20px;width:32.30px;height:20.50px;background:radial-gradient(ellipse 32% 38% at 48% 42%,#d8c6ca 0,#bea0a6 100%)"></i><i style="left:258.10px;top:666.70px;width:6.00px;height:5.00px;background:#efe2e5;opacity:0.5;clip-path:polygon(0 0,100% 0,50% 100%);filter:blur(0.4px)"></i><i style="left:243.10px;top:682.70px;width:35.50px;height:2.10px;background:#bea0a6;opacity:0.8"></i><i style="left:241.80px;top:684.80px;width:38.80px;height:2.40px;background:linear-gradient(#84646a,#6c3e48)"></i><i style="left:241.80px;top:687.20px;width:38.80px;height:8.80px;background:#6c3e48"></i><i style="left:241.80px;top:696.00px;width:38.80px;height:4.40px;background:#84646a"></i><i style="left:238.20px;top:700.40px;width:45.00px;height:4.40px;background:#170507;border-radius:0 0 3px 3px"></i><i style="left:233.60px;top:704.70px;width:52.00px;height:9.60px;background:#3f3f3f"></i><i style="left:291.55px;top:476.20px;width:52.00px;height:238.10px;background:linear-gradient(90deg,#3d3d3d 0,#4a4a4a 8%,#4b4b4b 50%,#474747 90%,#3a3a3a 100%)"></i><i style="left:298.55px;top:498.20px;width:38.00px;height:150.00px;border:1px solid rgba(255,255,255,0.035);box-sizing:border-box"></i><i style="left:303.75px;top:479.40px;width:28.50px;height:7.60px;background:linear-gradient(#8a8a8a,#d2d2d2 25%,#dadada 55%,#a8a8a8);border-radius:1px"></i><i style="left:306.45px;top:487.00px;width:23.00px;height:2.20px;background:#2a2a2a"></i><i style="left:296.15px;top:656.20px;width:45.20px;height:48.60px;background:#4a2c31;border-radius:2px"></i><i style="left:299.75px;top:658.20px;width:38.80px;height:29.00px;background:linear-gradient(90deg,#5e4248,#70525a 25%,#70525a 75%,#5e4248)"></i><i style="left:299.75px;top:658.20px;width:38.80px;height:4.00px;background:linear-gradient(#5e4046,#82646a)"></i><i style="left:302.85px;top:662.20px;width:32.30px;height:20.50px;background:radial-gradient(ellipse 32% 38% at 48% 42%,#d8c6ca 0,#bea0a6 100%)"></i><i style="left:316.05px;top:666.70px;width:6.00px;height:5.00px;background:#efe2e5;opacity:0.5;clip-path:polygon(0 0,100% 0,50% 100%);filter:blur(0.4px)"></i><i style="left:301.05px;top:682.70px;width:35.50px;height:2.10px;background:#bea0a6;opacity:0.8"></i><i style="left:299.75px;top:684.80px;width:38.80px;height:2.40px;background:linear-gradient(#84646a,#6c3e48)"></i><i style="left:299.75px;top:687.20px;width:38.80px;height:8.80px;background:#6c3e48"></i><i style="left:299.75px;top:696.00px;width:38.80px;height:4.40px;background:#84646a"></i><i style="left:296.15px;top:700.40px;width:45.00px;height:4.40px;background:#170507;border-radius:0 0 3px 3px"></i><i style="left:291.55px;top:704.70px;width:52.00px;height:9.60px;background:#3f3f3f"></i><i style="left:349.50px;top:476.20px;width:52.00px;height:238.10px;background:linear-gradient(90deg,#3d3d3d 0,#4a4a4a 8%,#4b4b4b 50%,#474747 90%,#3a3a3a 100%)"></i><i style="left:356.50px;top:498.20px;width:38.00px;height:150.00px;border:1px solid rgba(255,255,255,0.035);box-sizing:border-box"></i><i style="left:361.70px;top:479.40px;width:28.50px;height:7.60px;background:linear-gradient(#8a8a8a,#d2d2d2 25%,#dadada 55%,#a8a8a8);border-radius:1px"></i><i style="left:364.40px;top:487.00px;width:23.00px;height:2.20px;background:#2a2a2a"></i><i style="left:354.10px;top:656.20px;width:45.20px;height:48.60px;background:#4a2c31;border-radius:2px"></i><i style="left:357.70px;top:658.20px;width:38.80px;height:29.00px;background:linear-gradient(90deg,#5e4248,#70525a 25%,#70525a 75%,#5e4248)"></i><i style="left:357.70px;top:658.20px;width:38.80px;height:4.00px;background:linear-gradient(#5e4046,#82646a)"></i><i style="left:360.80px;top:662.20px;width:32.30px;height:20.50px;background:radial-gradient(ellipse 32% 38% at 48% 42%,#d8c6ca 0,#bea0a6 100%)"></i><i style="left:374.00px;top:666.70px;width:6.00px;height:5.00px;background:#efe2e5;opacity:0.5;clip-path:polygon(0 0,100% 0,50% 100%);filter:blur(0.4px)"></i><i style="left:359.00px;top:682.70px;width:35.50px;height:2.10px;background:#bea0a6;opacity:0.8"></i><i style="left:357.70px;top:684.80px;width:38.80px;height:2.40px;background:linear-gradient(#84646a,#6c3e48)"></i><i style="left:357.70px;top:687.20px;width:38.80px;height:8.80px;background:#6c3e48"></i><i style="left:357.70px;top:696.00px;width:38.80px;height:4.40px;background:#84646a"></i><i style="left:354.10px;top:700.40px;width:45.00px;height:4.40px;background:#170507;border-radius:0 0 3px 3px"></i><i style="left:349.50px;top:704.70px;width:52.00px;height:9.60px;background:#3f3f3f"></i><i style="left:407.45px;top:476.20px;width:52.00px;height:238.10px;background:linear-gradient(90deg,#3d3d3d 0,#4a4a4a 8%,#4b4b4b 50%,#474747 90%,#3a3a3a 100%)"></i><i style="left:414.45px;top:498.20px;width:38.00px;height:150.00px;border:1px solid rgba(255,255,255,0.035);box-sizing:border-box"></i><i style="left:419.65px;top:479.40px;width:28.50px;height:7.60px;background:linear-gradient(#8a8a8a,#d2d2d2 25%,#dadada 55%,#a8a8a8);border-radius:1px"></i><i style="left:422.35px;top:487.00px;width:23.00px;height:2.20px;background:#2a2a2a"></i><i style="left:412.05px;top:656.20px;width:45.20px;height:48.60px;background:#4a2c31;border-radius:2px"></i><i style="left:415.65px;top:658.20px;width:38.80px;height:29.00px;background:linear-gradient(90deg,#5e4248,#70525a 25%,#70525a 75%,#5e4248)"></i><i style="left:415.65px;top:658.20px;width:38.80px;height:4.00px;background:linear-gradient(#5e4046,#82646a)"></i><i style="left:418.75px;top:662.20px;width:32.30px;height:20.50px;background:radial-gradient(ellipse 32% 38% at 48% 42%,#d8c6ca 0,#bea0a6 100%)"></i><i style="left:431.95px;top:666.70px;width:6.00px;height:5.00px;background:#efe2e5;opacity:0.5;clip-path:polygon(0 0,100% 0,50% 100%);filter:blur(0.4px)"></i><i style="left:416.95px;top:682.70px;width:35.50px;height:2.10px;background:#bea0a6;opacity:0.8"></i><i style="left:415.65px;top:684.80px;width:38.80px;height:2.40px;background:linear-gradient(#84646a,#6c3e48)"></i><i style="left:415.65px;top:687.20px;width:38.80px;height:8.80px;background:#6c3e48"></i><i style="left:415.65px;top:696.00px;width:38.80px;height:4.40px;background:#84646a"></i><i style="left:412.05px;top:700.40px;width:45.00px;height:4.40px;background:#170507;border-radius:0 0 3px 3px"></i><i style="left:407.45px;top:704.70px;width:52.00px;height:9.60px;background:#3f3f3f"></i><i style="left:496.40px;top:476.20px;width:51.60px;height:238.10px;background:linear-gradient(90deg,#3d3d3d 0,#4a4a4a 8%,#4b4b4b 50%,#474747 90%,#3a3a3a 100%)"></i><i style="left:503.40px;top:498.20px;width:37.60px;height:150.00px;border:1px solid rgba(255,255,255,0.035);box-sizing:border-box"></i><i style="left:508.60px;top:479.40px;width:28.50px;height:7.60px;background:linear-gradient(#8a8a8a,#d2d2d2 25%,#dadada 55%,#a8a8a8);border-radius:1px"></i><i style="left:511.30px;top:487.00px;width:23.00px;height:2.20px;background:#2a2a2a"></i><i style="left:501.00px;top:656.20px;width:45.20px;height:48.60px;background:#4a2c31;border-radius:2px"></i><i style="left:504.60px;top:658.20px;width:38.80px;height:29.00px;background:linear-gradient(90deg,#5e4248,#70525a 25%,#70525a 75%,#5e4248)"></i><i style="left:504.60px;top:658.20px;width:38.80px;height:4.00px;background:linear-gradient(#5a3c44,#86646c)"></i><i style="left:507.70px;top:662.20px;width:32.30px;height:20.50px;background:radial-gradient(ellipse 32% 38% at 48% 42%,#c8aab0 0,#b8969e 100%)"></i><i style="left:520.90px;top:666.70px;width:6.00px;height:5.00px;background:#6e4c54;opacity:0.5;clip-path:polygon(0 0,100% 0,50% 100%);filter:blur(0.4px)"></i><i style="left:505.90px;top:682.70px;width:35.50px;height:2.10px;background:#b8969e;opacity:0.8"></i><i style="left:504.60px;top:684.80px;width:38.80px;height:2.40px;background:linear-gradient(#8a6a70,#7a3e4c)"></i><i style="left:504.60px;top:687.20px;width:38.80px;height:8.80px;background:#7a3e4c"></i><i style="left:504.60px;top:696.00px;width:38.80px;height:4.40px;background:#8a6a70"></i><i style="left:501.00px;top:700.40px;width:45.00px;height:4.40px;background:#170507;border-radius:0 0 3px 3px"></i><i style="left:496.40px;top:704.70px;width:51.60px;height:9.60px;background:#3f3f3f"></i><i style="left:554.40px;top:476.20px;width:51.60px;height:238.10px;background:linear-gradient(90deg,#3d3d3d 0,#4a4a4a 8%,#4b4b4b 50%,#474747 90%,#3a3a3a 100%)"></i><i style="left:561.40px;top:498.20px;width:37.60px;height:150.00px;border:1px solid rgba(255,255,255,0.035);box-sizing:border-box"></i><i style="left:566.60px;top:479.40px;width:28.50px;height:7.60px;background:linear-gradient(#8a8a8a,#d2d2d2 25%,#dadada 55%,#a8a8a8);border-radius:1px"></i><i style="left:569.30px;top:487.00px;width:23.00px;height:2.20px;background:#2a2a2a"></i><i style="left:559.00px;top:656.20px;width:45.20px;height:48.60px;background:#4a2c31;border-radius:2px"></i><i style="left:562.60px;top:658.20px;width:38.80px;height:29.00px;background:linear-gradient(90deg,#5e4248,#70525a 25%,#70525a 75%,#5e4248)"></i><i style="left:562.60px;top:658.20px;width:38.80px;height:4.00px;background:linear-gradient(#5a3c44,#86646c)"></i><i style="left:565.70px;top:662.20px;width:32.30px;height:20.50px;background:radial-gradient(ellipse 32% 38% at 48% 42%,#c8aab0 0,#b8969e 100%)"></i><i style="left:578.90px;top:666.70px;width:6.00px;height:5.00px;background:#6e4c54;opacity:0.5;clip-path:polygon(0 0,100% 0,50% 100%);filter:blur(0.4px)"></i><i style="left:563.90px;top:682.70px;width:35.50px;height:2.10px;background:#b8969e;opacity:0.8"></i><i style="left:562.60px;top:684.80px;width:38.80px;height:2.40px;background:linear-gradient(#8a6a70,#7a3e4c)"></i><i style="left:562.60px;top:687.20px;width:38.80px;height:8.80px;background:#7a3e4c"></i><i style="left:562.60px;top:696.00px;width:38.80px;height:4.40px;background:#8a6a70"></i><i style="left:559.00px;top:700.40px;width:45.00px;height:4.40px;background:#170507;border-radius:0 0 3px 3px"></i><i style="left:554.40px;top:704.70px;width:51.60px;height:9.60px;background:#3f3f3f"></i><i style="left:612.40px;top:476.20px;width:51.60px;height:238.10px;background:linear-gradient(90deg,#3d3d3d 0,#4a4a4a 8%,#4b4b4b 50%,#474747 90%,#3a3a3a 100%)"></i><i style="left:619.40px;top:498.20px;width:37.60px;height:150.00px;border:1px solid rgba(255,255,255,0.035);box-sizing:border-box"></i><i style="left:624.60px;top:479.40px;width:28.50px;height:7.60px;background:linear-gradient(#8a8a8a,#d2d2d2 25%,#dadada 55%,#a8a8a8);border-radius:1px"></i><i style="left:627.30px;top:487.00px;width:23.00px;height:2.20px;background:#2a2a2a"></i><i style="left:617.00px;top:656.20px;width:45.20px;height:48.60px;background:#4a2c31;border-radius:2px"></i><i style="left:620.60px;top:658.20px;width:38.80px;height:29.00px;background:linear-gradient(90deg,#5e4248,#70525a 25%,#70525a 75%,#5e4248)"></i><i style="left:620.60px;top:658.20px;width:38.80px;height:4.00px;background:linear-gradient(#5a3c44,#86646c)"></i><i style="left:623.70px;top:662.20px;width:32.30px;height:20.50px;background:radial-gradient(ellipse 32% 38% at 48% 42%,#c8aab0 0,#b8969e 100%)"></i><i style="left:636.90px;top:666.70px;width:6.00px;height:5.00px;background:#6e4c54;opacity:0.5;clip-path:polygon(0 0,100% 0,50% 100%);filter:blur(0.4px)"></i><i style="left:621.90px;top:682.70px;width:35.50px;height:2.10px;background:#b8969e;opacity:0.8"></i><i style="left:620.60px;top:684.80px;width:38.80px;height:2.40px;background:linear-gradient(#8a6a70,#7a3e4c)"></i><i style="left:620.60px;top:687.20px;width:38.80px;height:8.80px;background:#7a3e4c"></i><i style="left:620.60px;top:696.00px;width:38.80px;height:4.40px;background:#8a6a70"></i><i style="left:617.00px;top:700.40px;width:45.00px;height:4.40px;background:#170507;border-radius:0 0 3px 3px"></i><i style="left:612.40px;top:704.70px;width:51.60px;height:9.60px;background:#3f3f3f"></i><i style="left:670.40px;top:476.20px;width:51.60px;height:238.10px;background:linear-gradient(90deg,#3d3d3d 0,#4a4a4a 8%,#4b4b4b 50%,#474747 90%,#3a3a3a 100%)"></i><i style="left:677.40px;top:498.20px;width:37.60px;height:150.00px;border:1px solid rgba(255,255,255,0.035);box-sizing:border-box"></i><i style="left:682.60px;top:479.40px;width:28.50px;height:7.60px;background:linear-gradient(#8a8a8a,#d2d2d2 25%,#dadada 55%,#a8a8a8);border-radius:1px"></i><i style="left:685.30px;top:487.00px;width:23.00px;height:2.20px;background:#2a2a2a"></i><i style="left:675.00px;top:656.20px;width:45.20px;height:48.60px;background:#4a2c31;border-radius:2px"></i><i style="left:678.60px;top:658.20px;width:38.80px;height:29.00px;background:linear-gradient(90deg,#5e4248,#70525a 25%,#70525a 75%,#5e4248)"></i><i style="left:678.60px;top:658.20px;width:38.80px;height:4.00px;background:linear-gradient(#5a3c44,#86646c)"></i><i style="left:681.70px;top:662.20px;width:32.30px;height:20.50px;background:radial-gradient(ellipse 32% 38% at 48% 42%,#c8aab0 0,#b8969e 100%)"></i><i style="left:694.90px;top:666.70px;width:6.00px;height:5.00px;background:#6e4c54;opacity:0.5;clip-path:polygon(0 0,100% 0,50% 100%);filter:blur(0.4px)"></i><i style="left:679.90px;top:682.70px;width:35.50px;height:2.10px;background:#b8969e;opacity:0.8"></i><i style="left:678.60px;top:684.80px;width:38.80px;height:2.40px;background:linear-gradient(#8a6a70,#7a3e4c)"></i><i style="left:678.60px;top:687.20px;width:38.80px;height:8.80px;background:#7a3e4c"></i><i style="left:678.60px;top:696.00px;width:38.80px;height:4.40px;background:#8a6a70"></i><i style="left:675.00px;top:700.40px;width:45.00px;height:4.40px;background:#170507;border-radius:0 0 3px 3px"></i><i style="left:670.40px;top:704.70px;width:51.60px;height:9.60px;background:#3f3f3f"></i><i style="left:728.40px;top:476.20px;width:51.60px;height:238.10px;background:linear-gradient(90deg,#3d3d3d 0,#4a4a4a 8%,#4b4b4b 50%,#474747 90%,#3a3a3a 100%)"></i><i style="left:735.40px;top:498.20px;width:37.60px;height:150.00px;border:1px solid rgba(255,255,255,0.035);box-sizing:border-box"></i><i style="left:740.60px;top:479.40px;width:28.50px;height:7.60px;background:linear-gradient(#8a8a8a,#d2d2d2 25%,#dadada 55%,#a8a8a8);border-radius:1px"></i><i style="left:743.30px;top:487.00px;width:23.00px;height:2.20px;background:#2a2a2a"></i><i style="left:733.00px;top:656.20px;width:45.20px;height:48.60px;background:#4a2c31;border-radius:2px"></i><i style="left:736.60px;top:658.20px;width:38.80px;height:29.00px;background:linear-gradient(90deg,#5e4248,#70525a 25%,#70525a 75%,#5e4248)"></i><i style="left:736.60px;top:658.20px;width:38.80px;height:4.00px;background:linear-gradient(#5a3c44,#86646c)"></i><i style="left:739.70px;top:662.20px;width:32.30px;height:20.50px;background:radial-gradient(ellipse 32% 38% at 48% 42%,#c8aab0 0,#b8969e 100%)"></i><i style="left:752.90px;top:666.70px;width:6.00px;height:5.00px;background:#6e4c54;opacity:0.5;clip-path:polygon(0 0,100% 0,50% 100%);filter:blur(0.4px)"></i><i style="left:737.90px;top:682.70px;width:35.50px;height:2.10px;background:#b8969e;opacity:0.8"></i><i style="left:736.60px;top:684.80px;width:38.80px;height:2.40px;background:linear-gradient(#8a6a70,#7a3e4c)"></i><i style="left:736.60px;top:687.20px;width:38.80px;height:8.80px;background:#7a3e4c"></i><i style="left:736.60px;top:696.00px;width:38.80px;height:4.40px;background:#8a6a70"></i><i style="left:733.00px;top:700.40px;width:45.00px;height:4.40px;background:#170507;border-radius:0 0 3px 3px"></i><i style="left:728.40px;top:704.70px;width:51.60px;height:9.60px;background:#3f3f3f"></i><i style="left:786.40px;top:476.20px;width:51.60px;height:238.10px;background:linear-gradient(90deg,#3d3d3d 0,#4a4a4a 8%,#4b4b4b 50%,#474747 90%,#3a3a3a 100%)"></i><i style="left:793.40px;top:498.20px;width:37.60px;height:150.00px;border:1px solid rgba(255,255,255,0.035);box-sizing:border-box"></i><i style="left:798.60px;top:479.40px;width:28.50px;height:7.60px;background:linear-gradient(#8a8a8a,#d2d2d2 25%,#dadada 55%,#a8a8a8);border-radius:1px"></i><i style="left:801.30px;top:487.00px;width:23.00px;height:2.20px;background:#2a2a2a"></i><i style="left:791.00px;top:656.20px;width:45.20px;height:48.60px;background:#4a2c31;border-radius:2px"></i><i style="left:794.60px;top:658.20px;width:38.80px;height:29.00px;background:linear-gradient(90deg,#5e4248,#70525a 25%,#70525a 75%,#5e4248)"></i><i style="left:794.60px;top:658.20px;width:38.80px;height:4.00px;background:linear-gradient(#5a3c44,#86646c)"></i><i style="left:797.70px;top:662.20px;width:32.30px;height:20.50px;background:radial-gradient(ellipse 32% 38% at 48% 42%,#c8aab0 0,#b8969e 100%)"></i><i style="left:810.90px;top:666.70px;width:6.00px;height:5.00px;background:#6e4c54;opacity:0.5;clip-path:polygon(0 0,100% 0,50% 100%);filter:blur(0.4px)"></i><i style="left:795.90px;top:682.70px;width:35.50px;height:2.10px;background:#b8969e;opacity:0.8"></i><i style="left:794.60px;top:684.80px;width:38.80px;height:2.40px;background:linear-gradient(#8a6a70,#7a3e4c)"></i><i style="left:794.60px;top:687.20px;width:38.80px;height:8.80px;background:#7a3e4c"></i><i style="left:794.60px;top:696.00px;width:38.80px;height:4.40px;background:#8a6a70"></i><i style="left:791.00px;top:700.40px;width:45.00px;height:4.40px;background:#170507;border-radius:0 0 3px 3px"></i><i style="left:786.40px;top:704.70px;width:51.60px;height:9.60px;background:#3f3f3f"></i><i style="left:844.40px;top:476.20px;width:51.60px;height:238.10px;background:linear-gradient(90deg,#3d3d3d 0,#4a4a4a 8%,#4b4b4b 50%,#474747 90%,#3a3a3a 100%)"></i><i style="left:851.40px;top:498.20px;width:37.60px;height:150.00px;border:1px solid rgba(255,255,255,0.035);box-sizing:border-box"></i><i style="left:856.60px;top:479.40px;width:28.50px;height:7.60px;background:linear-gradient(#8a8a8a,#d2d2d2 25%,#dadada 55%,#a8a8a8);border-radius:1px"></i><i style="left:859.30px;top:487.00px;width:23.00px;height:2.20px;background:#2a2a2a"></i><i style="left:849.00px;top:656.20px;width:45.20px;height:48.60px;background:#4a2c31;border-radius:2px"></i><i style="left:852.60px;top:658.20px;width:38.80px;height:29.00px;background:linear-gradient(90deg,#5e4248,#70525a 25%,#70525a 75%,#5e4248)"></i><i style="left:852.60px;top:658.20px;width:38.80px;height:4.00px;background:linear-gradient(#5a3c44,#86646c)"></i><i style="left:855.70px;top:662.20px;width:32.30px;height:20.50px;background:radial-gradient(ellipse 32% 38% at 48% 42%,#c8aab0 0,#b8969e 100%)"></i><i style="left:868.90px;top:666.70px;width:6.00px;height:5.00px;background:#6e4c54;opacity:0.5;clip-path:polygon(0 0,100% 0,50% 100%);filter:blur(0.4px)"></i><i style="left:853.90px;top:682.70px;width:35.50px;height:2.10px;background:#b8969e;opacity:0.8"></i><i style="left:852.60px;top:684.80px;width:38.80px;height:2.40px;background:linear-gradient(#8a6a70,#7a3e4c)"></i><i style="left:852.60px;top:687.20px;width:38.80px;height:8.80px;background:#7a3e4c"></i><i style="left:852.60px;top:696.00px;width:38.80px;height:4.40px;background:#8a6a70"></i><i style="left:849.00px;top:700.40px;width:45.00px;height:4.40px;background:#170507;border-radius:0 0 3px 3px"></i><i style="left:844.40px;top:704.70px;width:51.60px;height:9.60px;background:#3f3f3f"></i><i style="left:54.00px;top:479.40px;width:5.55px;height:8.40px;background:linear-gradient(90deg,#9c9c9c,#e0e0e0 50%,#a8a8a8)"></i><i style="left:111.95px;top:479.40px;width:5.55px;height:8.40px;background:linear-gradient(90deg,#9c9c9c,#e0e0e0 50%,#a8a8a8)"></i><i style="left:169.90px;top:479.40px;width:5.55px;height:8.40px;background:linear-gradient(90deg,#9c9c9c,#e0e0e0 50%,#a8a8a8)"></i><i style="left:227.85px;top:479.40px;width:5.55px;height:8.40px;background:linear-gradient(90deg,#9c9c9c,#e0e0e0 50%,#a8a8a8)"></i><i style="left:285.80px;top:479.40px;width:5.55px;height:8.40px;background:linear-gradient(90deg,#9c9c9c,#e0e0e0 50%,#a8a8a8)"></i><i style="left:343.75px;top:479.40px;width:5.55px;height:8.40px;background:linear-gradient(90deg,#9c9c9c,#e0e0e0 50%,#a8a8a8)"></i><i style="left:401.70px;top:479.40px;width:5.55px;height:8.40px;background:linear-gradient(90deg,#9c9c9c,#e0e0e0 50%,#a8a8a8)"></i><i style="left:548.20px;top:479.40px;width:6.00px;height:8.40px;background:linear-gradient(90deg,#9c9c9c,#e0e0e0 50%,#a8a8a8)"></i><i style="left:606.20px;top:479.40px;width:6.00px;height:8.40px;background:linear-gradient(90deg,#9c9c9c,#e0e0e0 50%,#a8a8a8)"></i><i style="left:664.20px;top:479.40px;width:6.00px;height:8.40px;background:linear-gradient(90deg,#9c9c9c,#e0e0e0 50%,#a8a8a8)"></i><i style="left:722.20px;top:479.40px;width:6.00px;height:8.40px;background:linear-gradient(90deg,#9c9c9c,#e0e0e0 50%,#a8a8a8)"></i><i style="left:780.20px;top:479.40px;width:6.00px;height:8.40px;background:linear-gradient(90deg,#9c9c9c,#e0e0e0 50%,#a8a8a8)"></i><i style="left:838.20px;top:479.40px;width:6.00px;height:8.40px;background:linear-gradient(90deg,#9c9c9c,#e0e0e0 50%,#a8a8a8)"></i><i style="left:53.80px;top:476.20px;width:5.95px;height:3.20px;background:#444"></i><i style="left:111.75px;top:476.20px;width:5.95px;height:3.20px;background:#444"></i><i style="left:169.70px;top:476.20px;width:5.95px;height:3.20px;background:#444"></i><i style="left:227.65px;top:476.20px;width:5.95px;height:3.20px;background:#444"></i><i style="left:285.60px;top:476.20px;width:5.95px;height:3.20px;background:#444"></i><i style="left:343.55px;top:476.20px;width:5.95px;height:3.20px;background:#444"></i><i style="left:401.50px;top:476.20px;width:5.95px;height:3.20px;background:#444"></i><i style="left:548.00px;top:476.20px;width:6.40px;height:3.20px;background:#444"></i><i style="left:606.00px;top:476.20px;width:6.40px;height:3.20px;background:#444"></i><i style="left:664.00px;top:476.20px;width:6.40px;height:3.20px;background:#444"></i><i style="left:722.00px;top:476.20px;width:6.40px;height:3.20px;background:#444"></i><i style="left:780.00px;top:476.20px;width:6.40px;height:3.20px;background:#444"></i><i style="left:838.00px;top:476.20px;width:6.40px;height:3.20px;background:#444"></i><i style="left:1.80px;top:714.30px;width:52.00px;height:243.70px;background:linear-gradient(90deg,#3d3d3d 0,#4a4a4a 8%,#4b4b4b 50%,#474747 90%,#3a3a3a 100%)"></i><i style="left:8.80px;top:736.30px;width:38.00px;height:150.00px;border:1px solid rgba(255,255,255,0.035);box-sizing:border-box"></i><i style="left:14.00px;top:717.50px;width:28.50px;height:7.60px;background:linear-gradient(#8a8a8a,#d2d2d2 25%,#dadada 55%,#a8a8a8);border-radius:1px"></i><i style="left:16.70px;top:725.10px;width:23.00px;height:2.20px;background:#2a2a2a"></i><i style="left:6.40px;top:898.80px;width:45.20px;height:48.60px;background:#4a2c31;border-radius:2px"></i><i style="left:10.00px;top:900.80px;width:38.80px;height:29.00px;background:linear-gradient(90deg,#5e4248,#70525a 25%,#70525a 75%,#5e4248)"></i><i style="left:10.00px;top:900.80px;width:38.80px;height:4.00px;background:linear-gradient(#5e4046,#82646a)"></i><i style="left:13.10px;top:904.80px;width:32.30px;height:20.50px;background:radial-gradient(ellipse 32% 38% at 48% 42%,#d4c2c6 0,#bc9ea4 100%)"></i><i style="left:26.30px;top:909.30px;width:6.00px;height:5.00px;background:#efe2e5;opacity:0.5;clip-path:polygon(0 0,100% 0,50% 100%);filter:blur(0.4px)"></i><i style="left:11.30px;top:925.30px;width:35.50px;height:2.10px;background:#bc9ea4;opacity:0.8"></i><i style="left:10.00px;top:927.40px;width:38.80px;height:2.40px;background:linear-gradient(#86666c,#74525a)"></i><i style="left:10.00px;top:929.80px;width:38.80px;height:8.80px;background:#74525a"></i><i style="left:10.00px;top:938.60px;width:38.80px;height:4.40px;background:#86666c"></i><i style="left:6.40px;top:943.00px;width:45.00px;height:4.40px;background:#170507;border-radius:0 0 3px 3px"></i><i style="left:1.80px;top:947.30px;width:52.00px;height:10.70px;background:#3f3f3f"></i><i style="left:59.75px;top:714.30px;width:52.00px;height:243.70px;background:linear-gradient(90deg,#3d3d3d 0,#4a4a4a 8%,#4b4b4b 50%,#474747 90%,#3a3a3a 100%)"></i><i style="left:66.75px;top:736.30px;width:38.00px;height:150.00px;border:1px solid rgba(255,255,255,0.035);box-sizing:border-box"></i><i style="left:71.95px;top:717.50px;width:28.50px;height:7.60px;background:linear-gradient(#8a8a8a,#d2d2d2 25%,#dadada 55%,#a8a8a8);border-radius:1px"></i><i style="left:74.65px;top:725.10px;width:23.00px;height:2.20px;background:#2a2a2a"></i><i style="left:64.35px;top:898.80px;width:45.20px;height:48.60px;background:#4a2c31;border-radius:2px"></i><i style="left:67.95px;top:900.80px;width:38.80px;height:29.00px;background:linear-gradient(90deg,#5e4248,#70525a 25%,#70525a 75%,#5e4248)"></i><i style="left:67.95px;top:900.80px;width:38.80px;height:4.00px;background:linear-gradient(#5e4046,#82646a)"></i><i style="left:71.05px;top:904.80px;width:32.30px;height:20.50px;background:radial-gradient(ellipse 32% 38% at 48% 42%,#d4c2c6 0,#bc9ea4 100%)"></i><i style="left:84.25px;top:909.30px;width:6.00px;height:5.00px;background:#efe2e5;opacity:0.5;clip-path:polygon(0 0,100% 0,50% 100%);filter:blur(0.4px)"></i><i style="left:69.25px;top:925.30px;width:35.50px;height:2.10px;background:#bc9ea4;opacity:0.8"></i><i style="left:67.95px;top:927.40px;width:38.80px;height:2.40px;background:linear-gradient(#86666c,#74525a)"></i><i style="left:67.95px;top:929.80px;width:38.80px;height:8.80px;background:#74525a"></i><i style="left:67.95px;top:938.60px;width:38.80px;height:4.40px;background:#86666c"></i><i style="left:64.35px;top:943.00px;width:45.00px;height:4.40px;background:#170507;border-radius:0 0 3px 3px"></i><i style="left:59.75px;top:947.30px;width:52.00px;height:10.70px;background:#3f3f3f"></i><i style="left:117.70px;top:714.30px;width:52.00px;height:243.70px;background:linear-gradient(90deg,#3d3d3d 0,#4a4a4a 8%,#4b4b4b 50%,#474747 90%,#3a3a3a 100%)"></i><i style="left:124.70px;top:736.30px;width:38.00px;height:150.00px;border:1px solid rgba(255,255,255,0.035);box-sizing:border-box"></i><i style="left:129.90px;top:717.50px;width:28.50px;height:7.60px;background:linear-gradient(#8a8a8a,#d2d2d2 25%,#dadada 55%,#a8a8a8);border-radius:1px"></i><i style="left:132.60px;top:725.10px;width:23.00px;height:2.20px;background:#2a2a2a"></i><i style="left:122.30px;top:898.80px;width:45.20px;height:48.60px;background:#4a2c31;border-radius:2px"></i><i style="left:125.90px;top:900.80px;width:38.80px;height:29.00px;background:linear-gradient(90deg,#5e4248,#70525a 25%,#70525a 75%,#5e4248)"></i><i style="left:125.90px;top:900.80px;width:38.80px;height:4.00px;background:linear-gradient(#5e4046,#82646a)"></i><i style="left:129.00px;top:904.80px;width:32.30px;height:20.50px;background:radial-gradient(ellipse 32% 38% at 48% 42%,#d4c2c6 0,#bc9ea4 100%)"></i><i style="left:142.20px;top:909.30px;width:6.00px;height:5.00px;background:#efe2e5;opacity:0.5;clip-path:polygon(0 0,100% 0,50% 100%);filter:blur(0.4px)"></i><i style="left:127.20px;top:925.30px;width:35.50px;height:2.10px;background:#bc9ea4;opacity:0.8"></i><i style="left:125.90px;top:927.40px;width:38.80px;height:2.40px;background:linear-gradient(#86666c,#74525a)"></i><i style="left:125.90px;top:929.80px;width:38.80px;height:8.80px;background:#74525a"></i><i style="left:125.90px;top:938.60px;width:38.80px;height:4.40px;background:#86666c"></i><i style="left:122.30px;top:943.00px;width:45.00px;height:4.40px;background:#170507;border-radius:0 0 3px 3px"></i><i style="left:117.70px;top:947.30px;width:52.00px;height:10.70px;background:#3f3f3f"></i><i style="left:175.65px;top:714.30px;width:52.00px;height:243.70px;background:linear-gradient(90deg,#3d3d3d 0,#4a4a4a 8%,#4b4b4b 50%,#474747 90%,#3a3a3a 100%)"></i><i style="left:182.65px;top:736.30px;width:38.00px;height:150.00px;border:1px solid rgba(255,255,255,0.035);box-sizing:border-box"></i><i style="left:187.85px;top:717.50px;width:28.50px;height:7.60px;background:linear-gradient(#8a8a8a,#d2d2d2 25%,#dadada 55%,#a8a8a8);border-radius:1px"></i><i style="left:190.55px;top:725.10px;width:23.00px;height:2.20px;background:#2a2a2a"></i><i style="left:180.25px;top:898.80px;width:45.20px;height:48.60px;background:#4a2c31;border-radius:2px"></i><i style="left:183.85px;top:900.80px;width:38.80px;height:29.00px;background:linear-gradient(90deg,#5e4248,#70525a 25%,#70525a 75%,#5e4248)"></i><i style="left:183.85px;top:900.80px;width:38.80px;height:4.00px;background:linear-gradient(#5e4046,#82646a)"></i><i style="left:186.95px;top:904.80px;width:32.30px;height:20.50px;background:radial-gradient(ellipse 32% 38% at 48% 42%,#d4c2c6 0,#bc9ea4 100%)"></i><i style="left:200.15px;top:909.30px;width:6.00px;height:5.00px;background:#efe2e5;opacity:0.5;clip-path:polygon(0 0,100% 0,50% 100%);filter:blur(0.4px)"></i><i style="left:185.15px;top:925.30px;width:35.50px;height:2.10px;background:#bc9ea4;opacity:0.8"></i><i style="left:183.85px;top:927.40px;width:38.80px;height:2.40px;background:linear-gradient(#86666c,#74525a)"></i><i style="left:183.85px;top:929.80px;width:38.80px;height:8.80px;background:#74525a"></i><i style="left:183.85px;top:938.60px;width:38.80px;height:4.40px;background:#86666c"></i><i style="left:180.25px;top:943.00px;width:45.00px;height:4.40px;background:#170507;border-radius:0 0 3px 3px"></i><i style="left:175.65px;top:947.30px;width:52.00px;height:10.70px;background:#3f3f3f"></i><i style="left:233.60px;top:714.30px;width:52.00px;height:243.70px;background:linear-gradient(90deg,#3d3d3d 0,#4a4a4a 8%,#4b4b4b 50%,#474747 90%,#3a3a3a 100%)"></i><i style="left:240.60px;top:736.30px;width:38.00px;height:150.00px;border:1px solid rgba(255,255,255,0.035);box-sizing:border-box"></i><i style="left:245.80px;top:717.50px;width:28.50px;height:7.60px;background:linear-gradient(#8a8a8a,#d2d2d2 25%,#dadada 55%,#a8a8a8);border-radius:1px"></i><i style="left:248.50px;top:725.10px;width:23.00px;height:2.20px;background:#2a2a2a"></i><i style="left:238.20px;top:898.80px;width:45.20px;height:48.60px;background:#4a2c31;border-radius:2px"></i><i style="left:241.80px;top:900.80px;width:38.80px;height:29.00px;background:linear-gradient(90deg,#5e4248,#70525a 25%,#70525a 75%,#5e4248)"></i><i style="left:241.80px;top:900.80px;width:38.80px;height:4.00px;background:linear-gradient(#5e4046,#82646a)"></i><i style="left:244.90px;top:904.80px;width:32.30px;height:20.50px;background:radial-gradient(ellipse 32% 38% at 48% 42%,#d4c2c6 0,#bc9ea4 100%)"></i><i style="left:258.10px;top:909.30px;width:6.00px;height:5.00px;background:#efe2e5;opacity:0.5;clip-path:polygon(0 0,100% 0,50% 100%);filter:blur(0.4px)"></i><i style="left:243.10px;top:925.30px;width:35.50px;height:2.10px;background:#bc9ea4;opacity:0.8"></i><i style="left:241.80px;top:927.40px;width:38.80px;height:2.40px;background:linear-gradient(#86666c,#74525a)"></i><i style="left:241.80px;top:929.80px;width:38.80px;height:8.80px;background:#74525a"></i><i style="left:241.80px;top:938.60px;width:38.80px;height:4.40px;background:#86666c"></i><i style="left:238.20px;top:943.00px;width:45.00px;height:4.40px;background:#170507;border-radius:0 0 3px 3px"></i><i style="left:233.60px;top:947.30px;width:52.00px;height:10.70px;background:#3f3f3f"></i><i style="left:291.55px;top:714.30px;width:52.00px;height:243.70px;background:linear-gradient(90deg,#3d3d3d 0,#4a4a4a 8%,#4b4b4b 50%,#474747 90%,#3a3a3a 100%)"></i><i style="left:298.55px;top:736.30px;width:38.00px;height:150.00px;border:1px solid rgba(255,255,255,0.035);box-sizing:border-box"></i><i style="left:303.75px;top:717.50px;width:28.50px;height:7.60px;background:linear-gradient(#8a8a8a,#d2d2d2 25%,#dadada 55%,#a8a8a8);border-radius:1px"></i><i style="left:306.45px;top:725.10px;width:23.00px;height:2.20px;background:#2a2a2a"></i><i style="left:296.15px;top:898.80px;width:45.20px;height:48.60px;background:#4a2c31;border-radius:2px"></i><i style="left:299.75px;top:900.80px;width:38.80px;height:29.00px;background:linear-gradient(90deg,#5e4248,#70525a 25%,#70525a 75%,#5e4248)"></i><i style="left:299.75px;top:900.80px;width:38.80px;height:4.00px;background:linear-gradient(#5e4046,#82646a)"></i><i style="left:302.85px;top:904.80px;width:32.30px;height:20.50px;background:radial-gradient(ellipse 32% 38% at 48% 42%,#d4c2c6 0,#bc9ea4 100%)"></i><i style="left:316.05px;top:909.30px;width:6.00px;height:5.00px;background:#efe2e5;opacity:0.5;clip-path:polygon(0 0,100% 0,50% 100%);filter:blur(0.4px)"></i><i style="left:301.05px;top:925.30px;width:35.50px;height:2.10px;background:#bc9ea4;opacity:0.8"></i><i style="left:299.75px;top:927.40px;width:38.80px;height:2.40px;background:linear-gradient(#86666c,#74525a)"></i><i style="left:299.75px;top:929.80px;width:38.80px;height:8.80px;background:#74525a"></i><i style="left:299.75px;top:938.60px;width:38.80px;height:4.40px;background:#86666c"></i><i style="left:296.15px;top:943.00px;width:45.00px;height:4.40px;background:#170507;border-radius:0 0 3px 3px"></i><i style="left:291.55px;top:947.30px;width:52.00px;height:10.70px;background:#3f3f3f"></i><i style="left:349.50px;top:714.30px;width:52.00px;height:243.70px;background:linear-gradient(90deg,#3d3d3d 0,#4a4a4a 8%,#4b4b4b 50%,#474747 90%,#3a3a3a 100%)"></i><i style="left:356.50px;top:736.30px;width:38.00px;height:150.00px;border:1px solid rgba(255,255,255,0.035);box-sizing:border-box"></i><i style="left:361.70px;top:717.50px;width:28.50px;height:7.60px;background:linear-gradient(#8a8a8a,#d2d2d2 25%,#dadada 55%,#a8a8a8);border-radius:1px"></i><i style="left:364.40px;top:725.10px;width:23.00px;height:2.20px;background:#2a2a2a"></i><i style="left:354.10px;top:898.80px;width:45.20px;height:48.60px;background:#4a2c31;border-radius:2px"></i><i style="left:357.70px;top:900.80px;width:38.80px;height:29.00px;background:linear-gradient(90deg,#5e4248,#70525a 25%,#70525a 75%,#5e4248)"></i><i style="left:357.70px;top:900.80px;width:38.80px;height:4.00px;background:linear-gradient(#5e4046,#82646a)"></i><i style="left:360.80px;top:904.80px;width:32.30px;height:20.50px;background:radial-gradient(ellipse 32% 38% at 48% 42%,#d4c2c6 0,#bc9ea4 100%)"></i><i style="left:374.00px;top:909.30px;width:6.00px;height:5.00px;background:#efe2e5;opacity:0.5;clip-path:polygon(0 0,100% 0,50% 100%);filter:blur(0.4px)"></i><i style="left:359.00px;top:925.30px;width:35.50px;height:2.10px;background:#bc9ea4;opacity:0.8"></i><i style="left:357.70px;top:927.40px;width:38.80px;height:2.40px;background:linear-gradient(#86666c,#74525a)"></i><i style="left:357.70px;top:929.80px;width:38.80px;height:8.80px;background:#74525a"></i><i style="left:357.70px;top:938.60px;width:38.80px;height:4.40px;background:#86666c"></i><i style="left:354.10px;top:943.00px;width:45.00px;height:4.40px;background:#170507;border-radius:0 0 3px 3px"></i><i style="left:349.50px;top:947.30px;width:52.00px;height:10.70px;background:#3f3f3f"></i><i style="left:407.45px;top:714.30px;width:52.00px;height:243.70px;background:linear-gradient(90deg,#3d3d3d 0,#4a4a4a 8%,#4b4b4b 50%,#474747 90%,#3a3a3a 100%)"></i><i style="left:414.45px;top:736.30px;width:38.00px;height:150.00px;border:1px solid rgba(255,255,255,0.035);box-sizing:border-box"></i><i style="left:419.65px;top:717.50px;width:28.50px;height:7.60px;background:linear-gradient(#8a8a8a,#d2d2d2 25%,#dadada 55%,#a8a8a8);border-radius:1px"></i><i style="left:422.35px;top:725.10px;width:23.00px;height:2.20px;background:#2a2a2a"></i><i style="left:412.05px;top:898.80px;width:45.20px;height:48.60px;background:#4a2c31;border-radius:2px"></i><i style="left:415.65px;top:900.80px;width:38.80px;height:29.00px;background:linear-gradient(90deg,#5e4248,#70525a 25%,#70525a 75%,#5e4248)"></i><i style="left:415.65px;top:900.80px;width:38.80px;height:4.00px;background:linear-gradient(#5e4046,#82646a)"></i><i style="left:418.75px;top:904.80px;width:32.30px;height:20.50px;background:radial-gradient(ellipse 32% 38% at 48% 42%,#d4c2c6 0,#bc9ea4 100%)"></i><i style="left:431.95px;top:909.30px;width:6.00px;height:5.00px;background:#efe2e5;opacity:0.5;clip-path:polygon(0 0,100% 0,50% 100%);filter:blur(0.4px)"></i><i style="left:416.95px;top:925.30px;width:35.50px;height:2.10px;background:#bc9ea4;opacity:0.8"></i><i style="left:415.65px;top:927.40px;width:38.80px;height:2.40px;background:linear-gradient(#86666c,#74525a)"></i><i style="left:415.65px;top:929.80px;width:38.80px;height:8.80px;background:#74525a"></i><i style="left:415.65px;top:938.60px;width:38.80px;height:4.40px;background:#86666c"></i><i style="left:412.05px;top:943.00px;width:45.00px;height:4.40px;background:#170507;border-radius:0 0 3px 3px"></i><i style="left:407.45px;top:947.30px;width:52.00px;height:10.70px;background:#3f3f3f"></i><i style="left:496.40px;top:714.30px;width:51.60px;height:243.70px;background:linear-gradient(90deg,#3d3d3d 0,#4a4a4a 8%,#4b4b4b 50%,#474747 90%,#3a3a3a 100%)"></i><i style="left:503.40px;top:736.30px;width:37.60px;height:150.00px;border:1px solid rgba(255,255,255,0.035);box-sizing:border-box"></i><i style="left:508.60px;top:717.50px;width:28.50px;height:7.60px;background:linear-gradient(#8a8a8a,#d2d2d2 25%,#dadada 55%,#a8a8a8);border-radius:1px"></i><i style="left:511.30px;top:725.10px;width:23.00px;height:2.20px;background:#2a2a2a"></i><i style="left:501.00px;top:898.80px;width:45.20px;height:48.60px;background:#4a2c31;border-radius:2px"></i><i style="left:504.60px;top:900.80px;width:38.80px;height:29.00px;background:linear-gradient(90deg,#5e4248,#70525a 25%,#70525a 75%,#5e4248)"></i><i style="left:504.60px;top:900.80px;width:38.80px;height:4.00px;background:linear-gradient(#583e44,#7a5c62)"></i><i style="left:507.70px;top:904.80px;width:32.30px;height:20.50px;background:radial-gradient(ellipse 32% 38% at 48% 42%,#b29498 0,#a4868c 100%)"></i><i style="left:520.90px;top:909.30px;width:6.00px;height:5.00px;background:#6e4c54;opacity:0.5;clip-path:polygon(0 0,100% 0,50% 100%);filter:blur(0.4px)"></i><i style="left:505.90px;top:925.30px;width:35.50px;height:2.10px;background:#a4868c;opacity:0.8"></i><i style="left:504.60px;top:927.40px;width:38.80px;height:2.40px;background:linear-gradient(#806268,#72525a)"></i><i style="left:504.60px;top:929.80px;width:38.80px;height:8.80px;background:#72525a"></i><i style="left:504.60px;top:938.60px;width:38.80px;height:4.40px;background:#806268"></i><i style="left:501.00px;top:943.00px;width:45.00px;height:4.40px;background:#170507;border-radius:0 0 3px 3px"></i><i style="left:496.40px;top:947.30px;width:51.60px;height:10.70px;background:#3f3f3f"></i><i style="left:554.40px;top:714.30px;width:51.60px;height:243.70px;background:linear-gradient(90deg,#3d3d3d 0,#4a4a4a 8%,#4b4b4b 50%,#474747 90%,#3a3a3a 100%)"></i><i style="left:561.40px;top:736.30px;width:37.60px;height:150.00px;border:1px solid rgba(255,255,255,0.035);box-sizing:border-box"></i><i style="left:566.60px;top:717.50px;width:28.50px;height:7.60px;background:linear-gradient(#8a8a8a,#d2d2d2 25%,#dadada 55%,#a8a8a8);border-radius:1px"></i><i style="left:569.30px;top:725.10px;width:23.00px;height:2.20px;background:#2a2a2a"></i><i style="left:559.00px;top:898.80px;width:45.20px;height:48.60px;background:#4a2c31;border-radius:2px"></i><i style="left:562.60px;top:900.80px;width:38.80px;height:29.00px;background:linear-gradient(90deg,#5e4248,#70525a 25%,#70525a 75%,#5e4248)"></i><i style="left:562.60px;top:900.80px;width:38.80px;height:4.00px;background:linear-gradient(#583e44,#7a5c62)"></i><i style="left:565.70px;top:904.80px;width:32.30px;height:20.50px;background:radial-gradient(ellipse 32% 38% at 48% 42%,#b29498 0,#a4868c 100%)"></i><i style="left:578.90px;top:909.30px;width:6.00px;height:5.00px;background:#6e4c54;opacity:0.5;clip-path:polygon(0 0,100% 0,50% 100%);filter:blur(0.4px)"></i><i style="left:563.90px;top:925.30px;width:35.50px;height:2.10px;background:#a4868c;opacity:0.8"></i><i style="left:562.60px;top:927.40px;width:38.80px;height:2.40px;background:linear-gradient(#806268,#72525a)"></i><i style="left:562.60px;top:929.80px;width:38.80px;height:8.80px;background:#72525a"></i><i style="left:562.60px;top:938.60px;width:38.80px;height:4.40px;background:#806268"></i><i style="left:559.00px;top:943.00px;width:45.00px;height:4.40px;background:#170507;border-radius:0 0 3px 3px"></i><i style="left:554.40px;top:947.30px;width:51.60px;height:10.70px;background:#3f3f3f"></i><i style="left:612.40px;top:714.30px;width:51.60px;height:243.70px;background:linear-gradient(90deg,#3d3d3d 0,#4a4a4a 8%,#4b4b4b 50%,#474747 90%,#3a3a3a 100%)"></i><i style="left:619.40px;top:736.30px;width:37.60px;height:150.00px;border:1px solid rgba(255,255,255,0.035);box-sizing:border-box"></i><i style="left:624.60px;top:717.50px;width:28.50px;height:7.60px;background:linear-gradient(#8a8a8a,#d2d2d2 25%,#dadada 55%,#a8a8a8);border-radius:1px"></i><i style="left:627.30px;top:725.10px;width:23.00px;height:2.20px;background:#2a2a2a"></i><i style="left:617.00px;top:898.80px;width:45.20px;height:48.60px;background:#4a2c31;border-radius:2px"></i><i style="left:620.60px;top:900.80px;width:38.80px;height:29.00px;background:linear-gradient(90deg,#5e4248,#70525a 25%,#70525a 75%,#5e4248)"></i><i style="left:620.60px;top:900.80px;width:38.80px;height:4.00px;background:linear-gradient(#583e44,#7a5c62)"></i><i style="left:623.70px;top:904.80px;width:32.30px;height:20.50px;background:radial-gradient(ellipse 32% 38% at 48% 42%,#b29498 0,#a4868c 100%)"></i><i style="left:636.90px;top:909.30px;width:6.00px;height:5.00px;background:#6e4c54;opacity:0.5;clip-path:polygon(0 0,100% 0,50% 100%);filter:blur(0.4px)"></i><i style="left:621.90px;top:925.30px;width:35.50px;height:2.10px;background:#a4868c;opacity:0.8"></i><i style="left:620.60px;top:927.40px;width:38.80px;height:2.40px;background:linear-gradient(#806268,#72525a)"></i><i style="left:620.60px;top:929.80px;width:38.80px;height:8.80px;background:#72525a"></i><i style="left:620.60px;top:938.60px;width:38.80px;height:4.40px;background:#806268"></i><i style="left:617.00px;top:943.00px;width:45.00px;height:4.40px;background:#170507;border-radius:0 0 3px 3px"></i><i style="left:612.40px;top:947.30px;width:51.60px;height:10.70px;background:#3f3f3f"></i><i style="left:670.40px;top:714.30px;width:51.60px;height:243.70px;background:linear-gradient(90deg,#3d3d3d 0,#4a4a4a 8%,#4b4b4b 50%,#474747 90%,#3a3a3a 100%)"></i><i style="left:677.40px;top:736.30px;width:37.60px;height:150.00px;border:1px solid rgba(255,255,255,0.035);box-sizing:border-box"></i><i style="left:682.60px;top:717.50px;width:28.50px;height:7.60px;background:linear-gradient(#8a8a8a,#d2d2d2 25%,#dadada 55%,#a8a8a8);border-radius:1px"></i><i style="left:685.30px;top:725.10px;width:23.00px;height:2.20px;background:#2a2a2a"></i><i style="left:675.00px;top:898.80px;width:45.20px;height:48.60px;background:#4a2c31;border-radius:2px"></i><i style="left:678.60px;top:900.80px;width:38.80px;height:29.00px;background:linear-gradient(90deg,#5e4248,#70525a 25%,#70525a 75%,#5e4248)"></i><i style="left:678.60px;top:900.80px;width:38.80px;height:4.00px;background:linear-gradient(#583e44,#7a5c62)"></i><i style="left:681.70px;top:904.80px;width:32.30px;height:20.50px;background:radial-gradient(ellipse 32% 38% at 48% 42%,#b29498 0,#a4868c 100%)"></i><i style="left:694.90px;top:909.30px;width:6.00px;height:5.00px;background:#6e4c54;opacity:0.5;clip-path:polygon(0 0,100% 0,50% 100%);filter:blur(0.4px)"></i><i style="left:679.90px;top:925.30px;width:35.50px;height:2.10px;background:#a4868c;opacity:0.8"></i><i style="left:678.60px;top:927.40px;width:38.80px;height:2.40px;background:linear-gradient(#806268,#72525a)"></i><i style="left:678.60px;top:929.80px;width:38.80px;height:8.80px;background:#72525a"></i><i style="left:678.60px;top:938.60px;width:38.80px;height:4.40px;background:#806268"></i><i style="left:675.00px;top:943.00px;width:45.00px;height:4.40px;background:#170507;border-radius:0 0 3px 3px"></i><i style="left:670.40px;top:947.30px;width:51.60px;height:10.70px;background:#3f3f3f"></i><i style="left:728.40px;top:714.30px;width:51.60px;height:243.70px;background:linear-gradient(90deg,#3d3d3d 0,#4a4a4a 8%,#4b4b4b 50%,#474747 90%,#3a3a3a 100%)"></i><i style="left:735.40px;top:736.30px;width:37.60px;height:150.00px;border:1px solid rgba(255,255,255,0.035);box-sizing:border-box"></i><i style="left:740.60px;top:717.50px;width:28.50px;height:7.60px;background:linear-gradient(#8a8a8a,#d2d2d2 25%,#dadada 55%,#a8a8a8);border-radius:1px"></i><i style="left:743.30px;top:725.10px;width:23.00px;height:2.20px;background:#2a2a2a"></i><i style="left:733.00px;top:898.80px;width:45.20px;height:48.60px;background:#4a2c31;border-radius:2px"></i><i style="left:736.60px;top:900.80px;width:38.80px;height:29.00px;background:linear-gradient(90deg,#5e4248,#70525a 25%,#70525a 75%,#5e4248)"></i><i style="left:736.60px;top:900.80px;width:38.80px;height:4.00px;background:linear-gradient(#583e44,#7a5c62)"></i><i style="left:739.70px;top:904.80px;width:32.30px;height:20.50px;background:radial-gradient(ellipse 32% 38% at 48% 42%,#b29498 0,#a4868c 100%)"></i><i style="left:752.90px;top:909.30px;width:6.00px;height:5.00px;background:#6e4c54;opacity:0.5;clip-path:polygon(0 0,100% 0,50% 100%);filter:blur(0.4px)"></i><i style="left:737.90px;top:925.30px;width:35.50px;height:2.10px;background:#a4868c;opacity:0.8"></i><i style="left:736.60px;top:927.40px;width:38.80px;height:2.40px;background:linear-gradient(#806268,#72525a)"></i><i style="left:736.60px;top:929.80px;width:38.80px;height:8.80px;background:#72525a"></i><i style="left:736.60px;top:938.60px;width:38.80px;height:4.40px;background:#806268"></i><i style="left:733.00px;top:943.00px;width:45.00px;height:4.40px;background:#170507;border-radius:0 0 3px 3px"></i><i style="left:728.40px;top:947.30px;width:51.60px;height:10.70px;background:#3f3f3f"></i><i style="left:786.40px;top:714.30px;width:51.60px;height:243.70px;background:linear-gradient(90deg,#3d3d3d 0,#4a4a4a 8%,#4b4b4b 50%,#474747 90%,#3a3a3a 100%)"></i><i style="left:793.40px;top:736.30px;width:37.60px;height:150.00px;border:1px solid rgba(255,255,255,0.035);box-sizing:border-box"></i><i style="left:798.60px;top:717.50px;width:28.50px;height:7.60px;background:linear-gradient(#8a8a8a,#d2d2d2 25%,#dadada 55%,#a8a8a8);border-radius:1px"></i><i style="left:801.30px;top:725.10px;width:23.00px;height:2.20px;background:#2a2a2a"></i><i style="left:791.00px;top:898.80px;width:45.20px;height:48.60px;background:#4a2c31;border-radius:2px"></i><i style="left:794.60px;top:900.80px;width:38.80px;height:29.00px;background:linear-gradient(90deg,#5e4248,#70525a 25%,#70525a 75%,#5e4248)"></i><i style="left:794.60px;top:900.80px;width:38.80px;height:4.00px;background:linear-gradient(#583e44,#7a5c62)"></i><i style="left:797.70px;top:904.80px;width:32.30px;height:20.50px;background:radial-gradient(ellipse 32% 38% at 48% 42%,#b29498 0,#a4868c 100%)"></i><i style="left:810.90px;top:909.30px;width:6.00px;height:5.00px;background:#6e4c54;opacity:0.5;clip-path:polygon(0 0,100% 0,50% 100%);filter:blur(0.4px)"></i><i style="left:795.90px;top:925.30px;width:35.50px;height:2.10px;background:#a4868c;opacity:0.8"></i><i style="left:794.60px;top:927.40px;width:38.80px;height:2.40px;background:linear-gradient(#806268,#72525a)"></i><i style="left:794.60px;top:929.80px;width:38.80px;height:8.80px;background:#72525a"></i><i style="left:794.60px;top:938.60px;width:38.80px;height:4.40px;background:#806268"></i><i style="left:791.00px;top:943.00px;width:45.00px;height:4.40px;background:#170507;border-radius:0 0 3px 3px"></i><i style="left:786.40px;top:947.30px;width:51.60px;height:10.70px;background:#3f3f3f"></i><i style="left:844.40px;top:714.30px;width:51.60px;height:243.70px;background:linear-gradient(90deg,#3d3d3d 0,#4a4a4a 8%,#4b4b4b 50%,#474747 90%,#3a3a3a 100%)"></i><i style="left:851.40px;top:736.30px;width:37.60px;height:150.00px;border:1px solid rgba(255,255,255,0.035);box-sizing:border-box"></i><i style="left:856.60px;top:717.50px;width:28.50px;height:7.60px;background:linear-gradient(#8a8a8a,#d2d2d2 25%,#dadada 55%,#a8a8a8);border-radius:1px"></i><i style="left:859.30px;top:725.10px;width:23.00px;height:2.20px;background:#2a2a2a"></i><i style="left:849.00px;top:898.80px;width:45.20px;height:48.60px;background:#4a2c31;border-radius:2px"></i><i style="left:852.60px;top:900.80px;width:38.80px;height:29.00px;background:linear-gradient(90deg,#5e4248,#70525a 25%,#70525a 75%,#5e4248)"></i><i style="left:852.60px;top:900.80px;width:38.80px;height:4.00px;background:linear-gradient(#583e44,#7a5c62)"></i><i style="left:855.70px;top:904.80px;width:32.30px;height:20.50px;background:radial-gradient(ellipse 32% 38% at 48% 42%,#b29498 0,#a4868c 100%)"></i><i style="left:868.90px;top:909.30px;width:6.00px;height:5.00px;background:#6e4c54;opacity:0.5;clip-path:polygon(0 0,100% 0,50% 100%);filter:blur(0.4px)"></i><i style="left:853.90px;top:925.30px;width:35.50px;height:2.10px;background:#a4868c;opacity:0.8"></i><i style="left:852.60px;top:927.40px;width:38.80px;height:2.40px;background:linear-gradient(#806268,#72525a)"></i><i style="left:852.60px;top:929.80px;width:38.80px;height:8.80px;background:#72525a"></i><i style="left:852.60px;top:938.60px;width:38.80px;height:4.40px;background:#806268"></i><i style="left:849.00px;top:943.00px;width:45.00px;height:4.40px;background:#170507;border-radius:0 0 3px 3px"></i><i style="left:844.40px;top:947.30px;width:51.60px;height:10.70px;background:#3f3f3f"></i><i style="left:54.00px;top:717.50px;width:5.55px;height:8.40px;background:linear-gradient(90deg,#9c9c9c,#e0e0e0 50%,#a8a8a8)"></i><i style="left:111.95px;top:717.50px;width:5.55px;height:8.40px;background:linear-gradient(90deg,#9c9c9c,#e0e0e0 50%,#a8a8a8)"></i><i style="left:169.90px;top:717.50px;width:5.55px;height:8.40px;background:linear-gradient(90deg,#9c9c9c,#e0e0e0 50%,#a8a8a8)"></i><i style="left:227.85px;top:717.50px;width:5.55px;height:8.40px;background:linear-gradient(90deg,#9c9c9c,#e0e0e0 50%,#a8a8a8)"></i><i style="left:285.80px;top:717.50px;width:5.55px;height:8.40px;background:linear-gradient(90deg,#9c9c9c,#e0e0e0 50%,#a8a8a8)"></i><i style="left:343.75px;top:717.50px;width:5.55px;height:8.40px;background:linear-gradient(90deg,#9c9c9c,#e0e0e0 50%,#a8a8a8)"></i><i style="left:401.70px;top:717.50px;width:5.55px;height:8.40px;background:linear-gradient(90deg,#9c9c9c,#e0e0e0 50%,#a8a8a8)"></i><i style="left:548.20px;top:717.50px;width:6.00px;height:8.40px;background:linear-gradient(90deg,#9c9c9c,#e0e0e0 50%,#a8a8a8)"></i><i style="left:606.20px;top:717.50px;width:6.00px;height:8.40px;background:linear-gradient(90deg,#9c9c9c,#e0e0e0 50%,#a8a8a8)"></i><i style="left:664.20px;top:717.50px;width:6.00px;height:8.40px;background:linear-gradient(90deg,#9c9c9c,#e0e0e0 50%,#a8a8a8)"></i><i style="left:722.20px;top:717.50px;width:6.00px;height:8.40px;background:linear-gradient(90deg,#9c9c9c,#e0e0e0 50%,#a8a8a8)"></i><i style="left:780.20px;top:717.50px;width:6.00px;height:8.40px;background:linear-gradient(90deg,#9c9c9c,#e0e0e0 50%,#a8a8a8)"></i><i style="left:838.20px;top:717.50px;width:6.00px;height:8.40px;background:linear-gradient(90deg,#9c9c9c,#e0e0e0 50%,#a8a8a8)"></i><i style="left:53.80px;top:714.30px;width:5.95px;height:3.20px;background:#444"></i><i style="left:111.75px;top:714.30px;width:5.95px;height:3.20px;background:#444"></i><i style="left:169.70px;top:714.30px;width:5.95px;height:3.20px;background:#444"></i><i style="left:227.65px;top:714.30px;width:5.95px;height:3.20px;background:#444"></i><i style="left:285.60px;top:714.30px;width:5.95px;height:3.20px;background:#444"></i><i style="left:343.55px;top:714.30px;width:5.95px;height:3.20px;background:#444"></i><i style="left:401.50px;top:714.30px;width:5.95px;height:3.20px;background:#444"></i><i style="left:548.00px;top:714.30px;width:6.40px;height:3.20px;background:#444"></i><i style="left:606.00px;top:714.30px;width:6.40px;height:3.20px;background:#444"></i><i style="left:664.00px;top:714.30px;width:6.40px;height:3.20px;background:#444"></i><i style="left:722.00px;top:714.30px;width:6.40px;height:3.20px;background:#444"></i><i style="left:780.00px;top:714.30px;width:6.40px;height:3.20px;background:#444"></i><i style="left:838.00px;top:714.30px;width:6.40px;height:3.20px;background:#444"></i><i style="left:459.40px;top:0.00px;width:5.60px;height:958.00px;background:#070707"></i><i style="left:465.00px;top:0.00px;width:4.00px;height:958.00px;background:linear-gradient(90deg,#8e8c7c,#c9c6b0 50%,#8a8878)"></i><i style="left:469.00px;top:0.00px;width:25.00px;height:958.00px;background:#20262c"></i><i style="left:494.00px;top:0.00px;width:2.40px;height:958.00px;background:#14181c"></i><i style="left:461.50px;top:0.00px;width:33.10px;height:16.60px;background:linear-gradient(90deg,#8e8e8e,#d8d8d8 25%,#e2e2e2 70%,#bdbdbd)"></i><i style="left:463.50px;top:3.32px;width:3.00px;height:9.13px;background:#4a4a4a"></i><i style="left:468.00px;top:1.66px;width:1.60px;height:13.28px;background:#7a7a7a"></i><i style="left:469.00px;top:16.60px;width:25.00px;height:79.90px;background:linear-gradient(90deg,#7aa6d2,#8bb6e0 30%,#92bde6 80%,#6e9cc8)"></i><i style="left:469.00px;top:96.50px;width:8.00px;height:59.50px;background:#55574e"></i><i style="left:477.00px;top:96.50px;width:16.00px;height:59.50px;background:#d6d6d6"></i><i style="left:477.00px;top:96.50px;width:16.00px;height:3.00px;background:#2e2e2e"></i><i style="left:477.00px;top:110.62px;width:16.00px;height:3.00px;background:#2e2e2e"></i><i style="left:477.00px;top:124.75px;width:16.00px;height:3.00px;background:#2e2e2e"></i><i style="left:477.00px;top:138.88px;width:16.00px;height:3.00px;background:#2e2e2e"></i><i style="left:477.00px;top:153.00px;width:16.00px;height:3.00px;background:#2e2e2e"></i><i style="left:469.00px;top:156.00px;width:25.00px;height:79.10px;background:linear-gradient(90deg,#76a4d0,#8bb6e0 30%,#8fbbe4 80%,#6a9ac6)"></i><i style="left:461.50px;top:236.00px;width:33.10px;height:19.30px;background:linear-gradient(90deg,#8e8e8e,#d8d8d8 25%,#e2e2e2 70%,#bdbdbd)"></i><i style="left:463.50px;top:239.86px;width:3.00px;height:10.62px;background:#4a4a4a"></i><i style="left:468.00px;top:237.93px;width:1.60px;height:15.44px;background:#7a7a7a"></i><i style="left:463.00px;top:255.30px;width:31.60px;height:4.80px;background:#1a2330"></i><i style="left:465.00px;top:260.10px;width:29.60px;height:39.50px;background:linear-gradient(180deg,#5b92ca,#5089c5 60%,#4580be)"></i><i style="left:465.00px;top:299.60px;width:29.60px;height:127.80px;background:linear-gradient(90deg,#76a0cc,#80a8d4 35%,#84acd6 80%,#6f9ac6)"></i><i style="left:465.00px;top:427.40px;width:29.60px;height:37.50px;background:linear-gradient(180deg,#6394ca,#5a8ec6)"></i><i style="left:463.00px;top:464.90px;width:31.60px;height:7.20px;background:#1a2330"></i><i style="left:461.50px;top:472.10px;width:33.10px;height:19.00px;background:linear-gradient(90deg,#8e8e8e,#d8d8d8 25%,#e2e2e2 70%,#bdbdbd)"></i><i style="left:463.50px;top:475.90px;width:3.00px;height:10.45px;background:#4a4a4a"></i><i style="left:468.00px;top:474.00px;width:1.60px;height:15.20px;background:#7a7a7a"></i><i style="left:469.00px;top:491.10px;width:25.00px;height:80.20px;background:linear-gradient(90deg,#7aa6d2,#8bb6e0 30%,#92bde6 80%,#6e9cc8)"></i><i style="left:469.00px;top:571.30px;width:8.00px;height:58.70px;background:#55574e"></i><i style="left:477.00px;top:571.30px;width:16.00px;height:58.70px;background:#d6d6d6"></i><i style="left:477.00px;top:571.30px;width:16.00px;height:3.00px;background:#2e2e2e"></i><i style="left:477.00px;top:585.22px;width:16.00px;height:3.00px;background:#2e2e2e"></i><i style="left:477.00px;top:599.15px;width:16.00px;height:3.00px;background:#2e2e2e"></i><i style="left:477.00px;top:613.08px;width:16.00px;height:3.00px;background:#2e2e2e"></i><i style="left:477.00px;top:627.00px;width:16.00px;height:3.00px;background:#2e2e2e"></i><i style="left:469.00px;top:630.00px;width:25.00px;height:75.60px;background:linear-gradient(90deg,#76a4d0,#8bb6e0 30%,#8fbbe4 80%,#6a9ac6)"></i><i style="left:461.50px;top:705.60px;width:33.10px;height:24.80px;background:linear-gradient(90deg,#8e8e8e,#d8d8d8 25%,#e2e2e2 70%,#bdbdbd)"></i><i style="left:463.50px;top:710.56px;width:3.00px;height:13.64px;background:#4a4a4a"></i><i style="left:468.00px;top:708.08px;width:1.60px;height:19.84px;background:#7a7a7a"></i><i style="left:463.00px;top:730.40px;width:31.60px;height:5.80px;background:#1a2330"></i><i style="left:465.00px;top:736.20px;width:29.60px;height:37.30px;background:linear-gradient(180deg,#5b92ca,#5089c5 60%,#4580be)"></i><i style="left:465.00px;top:773.50px;width:29.60px;height:133.90px;background:linear-gradient(90deg,#76a0cc,#80a8d4 35%,#84acd6 80%,#6f9ac6)"></i><i style="left:465.00px;top:907.40px;width:29.60px;height:34.40px;background:linear-gradient(180deg,#6394ca,#5a8ec6)"></i><i style="left:463.00px;top:941.80px;width:31.60px;height:7.90px;background:#1a2330"></i><i style="left:461.50px;top:949.70px;width:33.10px;height:8.30px;background:linear-gradient(90deg,#8e8e8e,#d8d8d8 25%,#e2e2e2 70%,#bdbdbd)"></i><i style="left:463.50px;top:951.36px;width:3.00px;height:4.56px;background:#4a4a4a"></i><i style="left:468.00px;top:950.53px;width:1.60px;height:6.64px;background:#7a7a7a"></i></div>
<svg width="1920" height="1920" style="position:absolute;left:0;top:0"><defs><linearGradient id="rg" x1="0" y1="0" x2="0" y2="1"><stop offset="0" stop-color="#dadada"/><stop offset="0.5" stop-color="#e6e6e6"/><stop offset="0.8" stop-color="#e2e2e2"/><stop offset="0.9" stop-color="#efefef"/><stop offset="1" stop-color="#c8c8c8"/></linearGradient><linearGradient id="tg" x1="0" y1="0" x2="1" y2="0"><stop offset="0" stop-color="#7c7876"/><stop offset="0.5" stop-color="#9a9694"/><stop offset="1" stop-color="#8a8684"/></linearGradient></defs><polygon points="542,1401.5 1461,1400.5 1461,1403 542,1404" fill="#6c6c6c"/><polygon points="542,1404 1461,1403 1461,1410 542,1410.5" fill="#d6d6d6"/><polygon points="542,1410.5 1461,1410 1461,1413 542,1413" fill="#858585"/><polygon points="543,1413 1441,1413 1441,1433 543,1433" fill="url(#rg)"/><rect x="543.5" y="1413" width="23" height="13" fill="#121212"/><rect x="566" y="1411" width="26" height="4" fill="#3a3a3a"/><rect x="1440" y="1411.5" width="21.7" height="12.5" fill="#121212"/><rect x="1413" y="1410" width="27" height="3.5" fill="#333"/><polygon points="566.5,1432 601,1432 566.5,1479" fill="url(#tg)"/><polygon points="1401.7,1432.5 1443,1432.5 1441.7,1476.7" fill="url(#tg)"/></svg>
<div style="left:503.00px;top:1387.00px;width:35.00px;height:18.00px;background:linear-gradient(#b6b6b6 0,#cfcfcf 20%,#dcdcdc 60%,#d2d2d2)"></div>
<div style="left:511.00px;top:1403.00px;width:24.00px;height:26.00px;background:linear-gradient(#2c5878 0,#2f6a9c 25%,#3c82c0 60%,#3a7cb8);border-radius:2px"></div>
<div style="left:530.00px;top:1433.00px;width:33.00px;height:28.00px;background:linear-gradient(90deg,#d4d0cc,#e4e0dc 50%,#dcd8d4)"></div>
<div style="left:534.00px;top:1461.00px;width:31.00px;height:9.00px;background:#2c4c86"></div>
<div style="left:534.00px;top:1470.00px;width:31.00px;height:18.50px;background:linear-gradient(#8ab0e4,#7ea6dc 60%,#7096d0);border-radius:0 0 2px 2px"></div>
<div style="left:1467.50px;top:1385.00px;width:43.50px;height:15.00px;background:linear-gradient(#a8a8a8 0,#c8c8c8 25%,#d0d0d0 70%,#bdbdbd);border-right:2px solid #9a9a9a;box-sizing:border-box"></div>
<div style="left:1476.00px;top:1400.00px;width:28.00px;height:27.50px;background:linear-gradient(#1d3a52 0,#224f78 25%,#2a6aa0 50%,#2b6ca2);border-radius:2px"></div>
<div style="left:1443.00px;top:1429.00px;width:34.00px;height:31.00px;background:linear-gradient(90deg,#cfcac8,#dcd7d5 50%,#d4cfcd)"></div>
<div style="left:1442.00px;top:1460.00px;width:30.50px;height:8.00px;background:#263f70"></div>
<div style="left:1442.00px;top:1468.00px;width:30.50px;height:19.50px;background:linear-gradient(#86aade,#7ca2d8 60%,#6e92cc);border-radius:0 0 2px 2px"></div>
<div style="left:536.70px;top:491.00px;width:4.30px;height:29.50px;background:#a8a8a8"></div>
<div style="left:536.70px;top:852.00px;width:5.60px;height:75.00px;background:linear-gradient(90deg,#8c8c8c,#c4c4c4 50%,#9a9a9a)"></div>
<div style="left:537.50px;top:949.00px;width:4.50px;height:45.00px;background:#b8b8b8"></div>
<div style="left:1452.00px;top:484.50px;width:3.00px;height:29.50px;background:#a8a8a8"></div>
<div style="left:1457.00px;top:838.00px;width:9.00px;height:83.00px;border:1.6px solid #9a9a9a;border-left:none;background:#fafafa;box-sizing:border-box"></div>
<div style="left:1457.00px;top:948.00px;width:4.00px;height:53.00px;background:#b4b4b4"></div>
<div style="left:452.50px;top:478.00px;width:5.30px;height:931.50px;background:#e8be2c;height:909.5px"></div>
<div style="left:452.50px;top:478.00px;width:39.00px;height:5.20px;background:#e8be2c"></div>
<div style="left:452.50px;top:1382.40px;width:37.50px;height:5.20px;background:#e8be2c"></div>
<div style="left:428.00px;top:944.40px;width:25.00px;height:5.20px;background:#e8be2c"></div>
<div style="left:1028.00px;top:572.20px;width:542.00px;height:5.40px;background:#e8be2c"></div>
<div style="left:1028.00px;top:1046.50px;width:511.50px;height:5.30px;background:#e8be2c"></div>
<div style="left:1533.60px;top:572.20px;width:6.00px;height:479.50px;background:#e8be2c"></div>
<div class="t" style="left:112px;top:362.5px;font-style:italic;letter-spacing:-1.66px">(Top View – System)</div>
<div class="t" style="left:-89px;top:872.3px;width:600px;text-align:center;letter-spacing:-1.52px"><span style="letter-spacing:-1.68px">60x 3.5" SAS3/SATA3</span><br><span style="letter-spacing:-1.65px;position:relative;left:-1.5px">Hot-swap drives</span><br><span style="letter-spacing:-1.58px">(2.5" drives also supported</span><br><span style="letter-spacing:-1.5px">with tool-less trays)</span></div>
<div class="t" style="left:1442px;top:538.2px;width:600px;text-align:center;"><span style="letter-spacing:-1.85px">2x Hot-Serviceable</span><br><span style="letter-spacing:-2.2px">SAS Expanders</span></div>
</body></html>
